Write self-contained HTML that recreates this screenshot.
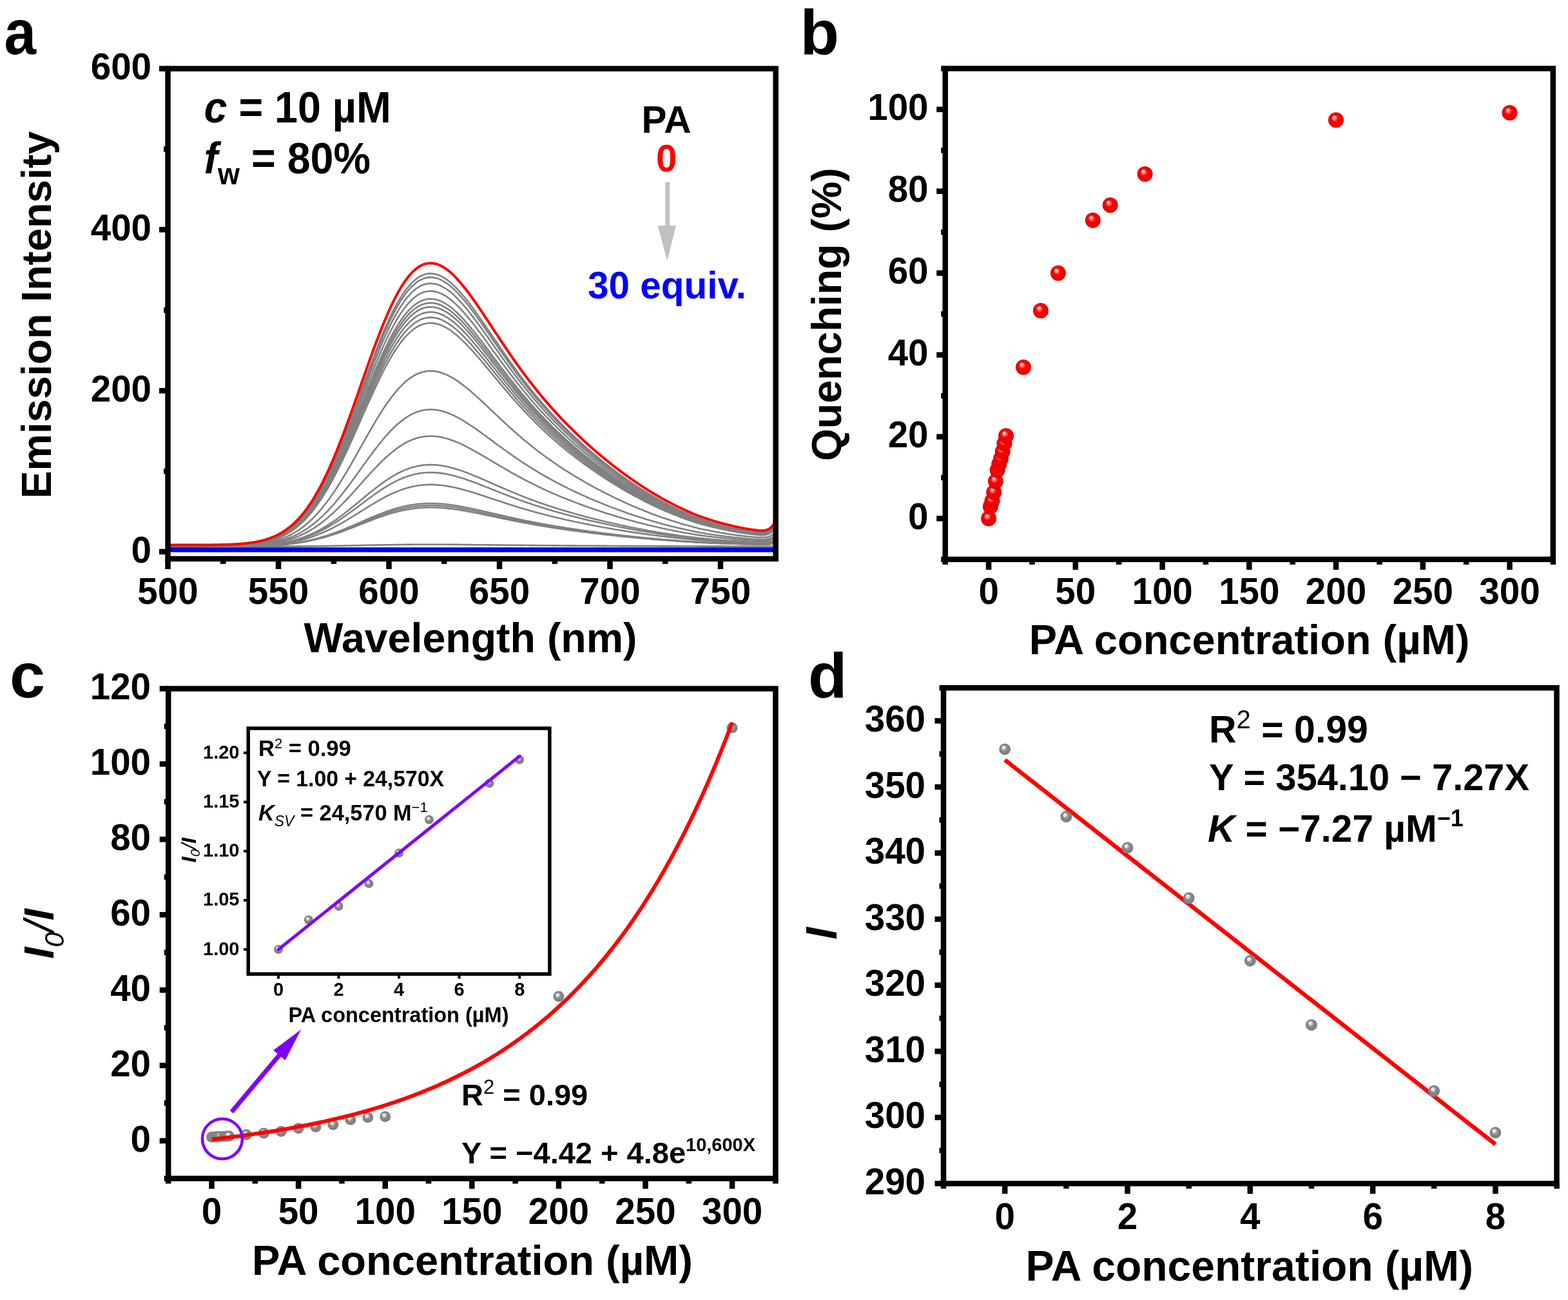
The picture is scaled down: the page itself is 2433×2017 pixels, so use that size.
<!DOCTYPE html>
<html><head><meta charset="utf-8"><title>Figure</title>
<style>html,body{margin:0;padding:0;background:#fff;}body{width:2433px;height:2017px;overflow:hidden;}svg{display:block;}</style>
</head><body>
<svg width="2433" height="2017" viewBox="0 0 2433 2017" style="font-family:'Liberation Sans',Arial,sans-serif;font-weight:bold">
<defs>
<radialGradient id="rs" cx="0.5" cy="0.5" r="0.5" fx="0.36" fy="0.3">
<stop offset="0" stop-color="#ffffff"/><stop offset="0.22" stop-color="#ff8080"/><stop offset="0.45" stop-color="#ff0000"/><stop offset="0.85" stop-color="#f00000"/><stop offset="1" stop-color="#d00000"/>
</radialGradient>
<radialGradient id="gs" cx="0.5" cy="0.5" r="0.5" fx="0.36" fy="0.3">
<stop offset="0" stop-color="#f4f4f4"/><stop offset="0.25" stop-color="#dcdcdc"/><stop offset="0.5" stop-color="#8a8a8a"/><stop offset="0.9" stop-color="#7e7e7e"/><stop offset="1" stop-color="#909090"/>
</radialGradient>
</defs>
<rect x="0" y="0" width="2433" height="2017" fill="#fff"/>
<g clip-path="url(#clipA)">
<clipPath id="clipA"><rect x="260.5" y="106.5" width="943.2" height="760.5"/></clipPath>
<path d="M260.5,847.9 L263.9,847.9 L267.4,847.9 L270.8,847.9 L274.2,847.9 L277.6,847.9 L281.1,847.9 L284.5,847.9 L287.9,847.9 L291.4,847.9 L294.8,847.9 L298.2,847.8 L301.7,847.8 L305.1,847.8 L308.5,847.8 L311.9,847.8 L315.4,847.8 L318.8,847.7 L322.2,847.7 L325.7,847.7 L329.1,847.6 L332.5,847.6 L336.0,847.6 L339.4,847.5 L342.8,847.4 L346.2,847.3 L349.7,847.2 L353.1,847.1 L356.5,847.0 L360.0,846.9 L363.4,846.7 L366.8,846.5 L370.3,846.3 L373.7,846.0 L377.1,845.8 L380.6,845.4 L384.0,845.1 L387.4,844.7 L390.8,844.2 L394.3,843.7 L397.7,843.1 L401.1,842.4 L404.6,841.7 L408.0,840.9 L411.4,840.0 L414.9,838.9 L418.3,837.8 L421.7,836.6 L425.1,835.2 L428.6,833.7 L432.0,832.0 L435.4,830.2 L438.9,828.2 L442.3,826.1 L445.7,823.7 L449.1,821.2 L452.6,818.4 L456.0,815.5 L459.4,812.3 L462.9,808.9 L466.3,805.2 L469.7,801.3 L473.2,797.1 L476.6,792.6 L480.0,787.9 L483.5,782.9 L486.9,777.6 L490.3,772.1 L493.7,766.2 L497.2,760.1 L500.6,753.7 L504.0,747.0 L507.5,740.0 L510.9,732.8 L514.3,725.3 L517.8,717.6 L521.2,709.6 L524.6,701.4 L528.0,692.9 L531.5,684.3 L534.9,675.5 L538.3,666.5 L541.8,657.4 L545.2,648.2 L548.6,638.9 L552.0,629.5 L555.5,620.0 L558.9,610.5 L562.3,601.0 L565.8,591.5 L569.2,582.1 L572.6,572.8 L576.1,563.5 L579.5,554.4 L582.9,545.4 L586.4,536.6 L589.8,528.0 L593.2,519.6 L596.6,511.5 L600.1,503.7 L603.5,496.1 L606.9,488.9 L610.4,481.9 L613.8,475.4 L617.2,469.2 L620.7,463.3 L624.1,457.9 L627.5,452.8 L630.9,448.2 L634.4,443.9 L637.8,440.1 L641.2,436.7 L644.7,433.7 L648.1,431.1 L651.5,429.0 L655.0,427.3 L658.4,426.0 L661.8,425.0 L665.2,424.5 L668.7,424.4 L672.1,424.7 L675.5,425.3 L679.0,426.3 L682.4,427.6 L685.8,429.2 L689.2,431.2 L692.7,433.4 L696.1,436.0 L699.5,438.8 L703.0,441.9 L706.4,445.2 L709.8,448.7 L713.3,452.4 L716.7,456.3 L720.1,460.4 L723.5,464.6 L727.0,469.0 L730.4,473.5 L733.8,478.1 L737.3,482.9 L740.7,487.6 L744.1,492.5 L747.6,497.4 L751.0,502.4 L754.4,507.4 L757.9,512.4 L761.3,517.5 L764.7,522.5 L768.1,527.6 L771.6,532.6 L775.0,537.6 L778.4,542.6 L781.9,547.6 L785.3,552.5 L788.7,557.4 L792.1,562.2 L795.6,567.0 L799.0,571.8 L802.4,576.5 L805.9,581.1 L809.3,585.7 L812.7,590.2 L816.2,594.6 L819.6,599.0 L823.0,603.4 L826.5,607.6 L829.9,611.8 L833.3,616.0 L836.7,620.1 L840.2,624.1 L843.6,628.0 L847.0,632.0 L850.5,635.8 L853.9,639.6 L857.3,643.3 L860.8,647.0 L864.2,650.6 L867.6,654.2 L871.0,657.7 L874.5,661.2 L877.9,664.7 L881.3,668.0 L884.8,671.4 L888.2,674.7 L891.6,677.9 L895.1,681.1 L898.5,684.3 L901.9,687.4 L905.3,690.5 L908.8,693.6 L912.2,696.6 L915.6,699.6 L919.1,702.5 L922.5,705.4 L925.9,708.3 L929.4,711.1 L932.8,713.9 L936.2,716.7 L939.6,719.4 L943.1,722.1 L946.5,724.7 L949.9,727.4 L953.4,730.0 L956.8,732.5 L960.2,735.1 L963.6,737.6 L967.1,740.0 L970.5,742.5 L973.9,744.8 L977.4,747.2 L980.8,749.5 L984.2,751.8 L987.7,754.1 L991.1,756.3 L994.5,758.5 L998.0,760.7 L1001.4,762.8 L1004.8,764.9 L1008.2,767.0 L1011.7,769.0 L1015.1,771.0 L1018.5,773.0 L1022.0,774.9 L1025.4,776.8 L1028.8,778.7 L1032.2,780.5 L1035.7,782.3 L1039.1,784.1 L1042.5,785.8 L1046.0,787.5 L1049.4,789.2 L1052.8,790.8 L1056.3,792.4 L1059.7,793.9 L1063.1,795.5 L1066.6,797.0 L1070.0,798.4 L1073.4,799.9 L1076.8,801.3 L1080.3,802.7 L1083.7,804.0 L1087.1,805.2 L1090.6,806.3 L1094.0,807.5 L1097.4,808.6 L1100.8,809.6 L1104.3,810.7 L1107.7,811.7 L1111.1,812.7 L1114.6,813.6 L1118.0,814.6 L1121.4,815.5 L1124.9,816.3 L1128.3,817.2 L1131.7,818.0 L1135.2,818.8 L1138.6,819.6 L1142.0,820.3 L1145.4,821.0 L1148.9,821.7 L1152.3,822.4 L1155.7,823.0 L1159.2,823.6 L1162.6,824.2 L1166.0,824.7 L1169.5,825.1 L1172.9,825.6 L1176.3,826.0 L1179.7,826.2 L1183.2,826.2 L1186.6,825.9 L1190.0,825.1 L1193.5,823.6 L1196.9,821.1 L1200.3,817.0 L1203.8,810.8 L1205.5,806.5" fill="none" stroke="#808080" stroke-width="2.6" stroke-linejoin="round" stroke-linecap="round"/>
<path d="M260.5,847.9 L263.9,847.9 L267.4,847.9 L270.8,847.9 L274.2,847.9 L277.6,847.9 L281.1,847.9 L284.5,847.9 L287.9,847.9 L291.4,847.9 L294.8,847.9 L298.2,847.8 L301.7,847.8 L305.1,847.8 L308.5,847.8 L311.9,847.8 L315.4,847.8 L318.8,847.7 L322.2,847.7 L325.7,847.7 L329.1,847.7 L332.5,847.6 L336.0,847.6 L339.4,847.5 L342.8,847.4 L346.2,847.3 L349.7,847.3 L353.1,847.1 L356.5,847.0 L360.0,846.9 L363.4,846.7 L366.8,846.5 L370.3,846.3 L373.7,846.1 L377.1,845.8 L380.6,845.5 L384.0,845.1 L387.4,844.7 L390.8,844.3 L394.3,843.7 L397.7,843.2 L401.1,842.5 L404.6,841.8 L408.0,841.0 L411.4,840.1 L414.9,839.1 L418.3,838.0 L421.7,836.7 L425.1,835.4 L428.6,833.9 L432.0,832.3 L435.4,830.5 L438.9,828.5 L442.3,826.4 L445.7,824.1 L449.1,821.6 L452.6,818.9 L456.0,815.9 L459.4,812.8 L462.9,809.4 L466.3,805.8 L469.7,801.9 L473.2,797.8 L476.6,793.4 L480.0,788.7 L483.5,783.8 L486.9,778.6 L490.3,773.1 L493.7,767.3 L497.2,761.3 L500.6,755.0 L504.0,748.4 L507.5,741.5 L510.9,734.4 L514.3,727.0 L517.8,719.4 L521.2,711.5 L524.6,703.4 L528.0,695.1 L531.5,686.6 L534.9,677.9 L538.3,669.1 L541.8,660.1 L545.2,651.0 L548.6,641.8 L552.0,632.5 L555.5,623.2 L558.9,613.8 L562.3,604.4 L565.8,595.1 L569.2,585.8 L572.6,576.6 L576.1,567.5 L579.5,558.5 L582.9,549.6 L586.4,540.9 L589.8,532.5 L593.2,524.2 L596.6,516.2 L600.1,508.4 L603.5,501.0 L606.9,493.8 L610.4,487.0 L613.8,480.5 L617.2,474.4 L620.7,468.6 L624.1,463.3 L627.5,458.3 L630.9,453.7 L634.4,449.5 L637.8,445.7 L641.2,442.4 L644.7,439.4 L648.1,436.9 L651.5,434.8 L655.0,433.1 L658.4,431.8 L661.8,430.9 L665.2,430.4 L668.7,430.3 L672.1,430.5 L675.5,431.1 L679.0,432.1 L682.4,433.4 L685.8,435.0 L689.2,437.0 L692.7,439.2 L696.1,441.7 L699.5,444.5 L703.0,447.5 L706.4,450.7 L709.8,454.2 L713.3,457.9 L716.7,461.8 L720.1,465.8 L723.5,470.0 L727.0,474.3 L730.4,478.7 L733.8,483.3 L737.3,487.9 L740.7,492.6 L744.1,497.4 L747.6,502.3 L751.0,507.2 L754.4,512.1 L757.9,517.1 L761.3,522.1 L764.7,527.0 L768.1,532.0 L771.6,537.0 L775.0,541.9 L778.4,546.8 L781.9,551.7 L785.3,556.6 L788.7,561.4 L792.1,566.2 L795.6,570.9 L799.0,575.6 L802.4,580.2 L805.9,584.8 L809.3,589.3 L812.7,593.7 L816.2,598.1 L819.6,602.5 L823.0,606.7 L826.5,611.0 L829.9,615.1 L833.3,619.2 L836.7,623.2 L840.2,627.2 L843.6,631.1 L847.0,634.9 L850.5,638.7 L853.9,642.5 L857.3,646.2 L860.8,649.8 L864.2,653.4 L867.6,656.9 L871.0,660.4 L874.5,663.8 L877.9,667.2 L881.3,670.5 L884.8,673.8 L888.2,677.1 L891.6,680.3 L895.1,683.4 L898.5,686.6 L901.9,689.7 L905.3,692.7 L908.8,695.7 L912.2,698.7 L915.6,701.6 L919.1,704.5 L922.5,707.4 L925.9,710.2 L929.4,713.0 L932.8,715.7 L936.2,718.5 L939.6,721.2 L943.1,723.8 L946.5,726.4 L949.9,729.0 L953.4,731.6 L956.8,734.1 L960.2,736.6 L963.6,739.1 L967.1,741.5 L970.5,743.9 L973.9,746.3 L977.4,748.6 L980.8,750.9 L984.2,753.2 L987.7,755.4 L991.1,757.6 L994.5,759.8 L998.0,761.9 L1001.4,764.0 L1004.8,766.1 L1008.2,768.1 L1011.7,770.1 L1015.1,772.1 L1018.5,774.0 L1022.0,775.9 L1025.4,777.8 L1028.8,779.6 L1032.2,781.4 L1035.7,783.2 L1039.1,785.0 L1042.5,786.7 L1046.0,788.3 L1049.4,790.0 L1052.8,791.6 L1056.3,793.2 L1059.7,794.7 L1063.1,796.2 L1066.6,797.7 L1070.0,799.1 L1073.4,800.5 L1076.8,801.9 L1080.3,803.3 L1083.7,804.6 L1087.1,805.8 L1090.6,806.9 L1094.0,808.0 L1097.4,809.1 L1100.8,810.2 L1104.3,811.2 L1107.7,812.2 L1111.1,813.2 L1114.6,814.1 L1118.0,815.0 L1121.4,815.9 L1124.9,816.8 L1128.3,817.6 L1131.7,818.4 L1135.2,819.2 L1138.6,820.0 L1142.0,820.7 L1145.4,821.4 L1148.9,822.1 L1152.3,822.7 L1155.7,823.4 L1159.2,823.9 L1162.6,824.5 L1166.0,825.0 L1169.5,825.4 L1172.9,825.9 L1176.3,826.3 L1179.7,826.5 L1183.2,826.5 L1186.6,826.2 L1190.0,825.4 L1193.5,823.9 L1196.9,821.4 L1200.3,817.5 L1203.8,811.3 L1205.5,807.0" fill="none" stroke="#808080" stroke-width="2.6" stroke-linejoin="round" stroke-linecap="round"/>
<path d="M260.5,847.9 L263.9,847.9 L267.4,847.9 L270.8,847.9 L274.2,847.9 L277.6,847.9 L281.1,847.9 L284.5,847.9 L287.9,847.9 L291.4,847.9 L294.8,847.9 L298.2,847.8 L301.7,847.8 L305.1,847.8 L308.5,847.8 L311.9,847.8 L315.4,847.8 L318.8,847.8 L322.2,847.7 L325.7,847.7 L329.1,847.7 L332.5,847.6 L336.0,847.6 L339.4,847.5 L342.8,847.4 L346.2,847.4 L349.7,847.3 L353.1,847.2 L356.5,847.0 L360.0,846.9 L363.4,846.7 L366.8,846.6 L370.3,846.4 L373.7,846.1 L377.1,845.8 L380.6,845.5 L384.0,845.2 L387.4,844.8 L390.8,844.3 L394.3,843.8 L397.7,843.3 L401.1,842.6 L404.6,841.9 L408.0,841.1 L411.4,840.3 L414.9,839.3 L418.3,838.2 L421.7,837.0 L425.1,835.7 L428.6,834.2 L432.0,832.6 L435.4,830.9 L438.9,829.0 L442.3,826.9 L445.7,824.6 L449.1,822.2 L452.6,819.5 L456.0,816.7 L459.4,813.6 L462.9,810.3 L466.3,806.7 L469.7,802.9 L473.2,798.9 L476.6,794.6 L480.0,790.1 L483.5,785.3 L486.9,780.2 L490.3,774.8 L493.7,769.2 L497.2,763.3 L500.6,757.1 L504.0,750.6 L507.5,743.9 L510.9,737.0 L514.3,729.7 L517.8,722.3 L521.2,714.6 L524.6,706.7 L528.0,698.6 L531.5,690.2 L534.9,681.8 L538.3,673.1 L541.8,664.3 L545.2,655.5 L548.6,646.5 L552.0,637.4 L555.5,628.3 L558.9,619.1 L562.3,610.0 L565.8,600.8 L569.2,591.8 L572.6,582.7 L576.1,573.8 L579.5,565.0 L582.9,556.4 L586.4,547.9 L589.8,539.6 L593.2,531.6 L596.6,523.7 L600.1,516.2 L603.5,508.9 L606.9,501.9 L610.4,495.2 L613.8,488.9 L617.2,482.9 L620.7,477.3 L624.1,472.0 L627.5,467.1 L630.9,462.7 L634.4,458.6 L637.8,454.9 L641.2,451.6 L644.7,448.7 L648.1,446.3 L651.5,444.2 L655.0,442.5 L658.4,441.3 L661.8,440.4 L665.2,439.9 L668.7,439.8 L672.1,440.0 L675.5,440.6 L679.0,441.6 L682.4,442.8 L685.8,444.4 L689.2,446.3 L692.7,448.5 L696.1,450.9 L699.5,453.6 L703.0,456.6 L706.4,459.8 L709.8,463.2 L713.3,466.8 L716.7,470.5 L720.1,474.5 L723.5,478.5 L727.0,482.8 L730.4,487.1 L733.8,491.6 L737.3,496.1 L740.7,500.7 L744.1,505.4 L747.6,510.1 L751.0,514.9 L754.4,519.8 L757.9,524.6 L761.3,529.5 L764.7,534.3 L768.1,539.2 L771.6,544.0 L775.0,548.9 L778.4,553.7 L781.9,558.5 L785.3,563.2 L788.7,567.9 L792.1,572.6 L795.6,577.2 L799.0,581.8 L802.4,586.3 L805.9,590.8 L809.3,595.2 L812.7,599.5 L816.2,603.8 L819.6,608.1 L823.0,612.2 L826.5,616.3 L829.9,620.4 L833.3,624.4 L836.7,628.3 L840.2,632.2 L843.6,636.0 L847.0,639.8 L850.5,643.5 L853.9,647.1 L857.3,650.8 L860.8,654.3 L864.2,657.8 L867.6,661.2 L871.0,664.6 L874.5,668.0 L877.9,671.3 L881.3,674.6 L884.8,677.8 L888.2,681.0 L891.6,684.1 L895.1,687.2 L898.5,690.2 L901.9,693.2 L905.3,696.2 L908.8,699.2 L912.2,702.1 L915.6,704.9 L919.1,707.8 L922.5,710.6 L925.9,713.3 L929.4,716.1 L932.8,718.8 L936.2,721.4 L939.6,724.0 L943.1,726.6 L946.5,729.2 L949.9,731.7 L953.4,734.2 L956.8,736.7 L960.2,739.2 L963.6,741.6 L967.1,743.9 L970.5,746.3 L973.9,748.6 L977.4,750.9 L980.8,753.1 L984.2,755.3 L987.7,757.5 L991.1,759.7 L994.5,761.8 L998.0,763.9 L1001.4,765.9 L1004.8,767.9 L1008.2,769.9 L1011.7,771.9 L1015.1,773.8 L1018.5,775.7 L1022.0,777.6 L1025.4,779.4 L1028.8,781.2 L1032.2,783.0 L1035.7,784.7 L1039.1,786.4 L1042.5,788.1 L1046.0,789.7 L1049.4,791.3 L1052.8,792.9 L1056.3,794.4 L1059.7,795.9 L1063.1,797.4 L1066.6,798.8 L1070.0,800.2 L1073.4,801.6 L1076.8,803.0 L1080.3,804.3 L1083.7,805.6 L1087.1,806.7 L1090.6,807.9 L1094.0,808.9 L1097.4,810.0 L1100.8,811.0 L1104.3,812.0 L1107.7,813.0 L1111.1,814.0 L1114.6,814.9 L1118.0,815.8 L1121.4,816.6 L1124.9,817.5 L1128.3,818.3 L1131.7,819.1 L1135.2,819.9 L1138.6,820.6 L1142.0,821.3 L1145.4,822.0 L1148.9,822.7 L1152.3,823.3 L1155.7,823.9 L1159.2,824.5 L1162.6,825.0 L1166.0,825.5 L1169.5,825.9 L1172.9,826.4 L1176.3,826.8 L1179.7,827.0 L1183.2,827.0 L1186.6,826.7 L1190.0,825.9 L1193.5,824.5 L1196.9,822.0 L1200.3,818.2 L1203.8,812.1 L1205.5,808.0" fill="none" stroke="#808080" stroke-width="2.6" stroke-linejoin="round" stroke-linecap="round"/>
<path d="M260.5,847.9 L263.9,847.9 L267.4,847.9 L270.8,847.9 L274.2,847.9 L277.6,847.9 L281.1,847.9 L284.5,847.9 L287.9,847.9 L291.4,847.9 L294.8,847.9 L298.2,847.8 L301.7,847.8 L305.1,847.8 L308.5,847.8 L311.9,847.8 L315.4,847.8 L318.8,847.8 L322.2,847.7 L325.7,847.7 L329.1,847.7 L332.5,847.6 L336.0,847.6 L339.4,847.5 L342.8,847.5 L346.2,847.4 L349.7,847.3 L353.1,847.2 L356.5,847.1 L360.0,846.9 L363.4,846.8 L366.8,846.6 L370.3,846.4 L373.7,846.2 L377.1,845.9 L380.6,845.6 L384.0,845.3 L387.4,844.9 L390.8,844.4 L394.3,844.0 L397.7,843.4 L401.1,842.8 L404.6,842.1 L408.0,841.3 L411.4,840.5 L414.9,839.5 L418.3,838.5 L421.7,837.3 L425.1,836.0 L428.6,834.6 L432.0,833.1 L435.4,831.4 L438.9,829.5 L442.3,827.5 L445.7,825.3 L449.1,822.9 L452.6,820.3 L456.0,817.6 L459.4,814.6 L462.9,811.4 L466.3,807.9 L469.7,804.3 L473.2,800.3 L476.6,796.2 L480.0,791.8 L483.5,787.1 L486.9,782.1 L490.3,776.9 L493.7,771.5 L497.2,765.7 L500.6,759.7 L504.0,753.5 L507.5,747.0 L510.9,740.2 L514.3,733.2 L517.8,725.9 L521.2,718.5 L524.6,710.8 L528.0,702.9 L531.5,694.8 L534.9,686.6 L538.3,678.2 L541.8,669.7 L545.2,661.0 L548.6,652.3 L552.0,643.5 L555.5,634.7 L558.9,625.8 L562.3,616.9 L565.8,608.0 L569.2,599.2 L572.6,590.5 L576.1,581.8 L579.5,573.3 L582.9,564.9 L586.4,556.6 L589.8,548.6 L593.2,540.8 L596.6,533.2 L600.1,525.8 L603.5,518.7 L606.9,512.0 L610.4,505.5 L613.8,499.3 L617.2,493.5 L620.7,488.0 L624.1,482.9 L627.5,478.2 L630.9,473.9 L634.4,469.9 L637.8,466.3 L641.2,463.1 L644.7,460.3 L648.1,457.9 L651.5,455.9 L655.0,454.3 L658.4,453.1 L661.8,452.2 L665.2,451.8 L668.7,451.6 L672.1,451.9 L675.5,452.5 L679.0,453.4 L682.4,454.6 L685.8,456.1 L689.2,458.0 L692.7,460.1 L696.1,462.5 L699.5,465.1 L703.0,468.0 L706.4,471.1 L709.8,474.4 L713.3,477.8 L716.7,481.5 L720.1,485.3 L723.5,489.3 L727.0,493.4 L730.4,497.6 L733.8,501.9 L737.3,506.3 L740.7,510.8 L744.1,515.4 L747.6,520.0 L751.0,524.6 L754.4,529.3 L757.9,534.0 L761.3,538.7 L764.7,543.4 L768.1,548.2 L771.6,552.9 L775.0,557.6 L778.4,562.2 L781.9,566.9 L785.3,571.5 L788.7,576.1 L792.1,580.6 L795.6,585.1 L799.0,589.5 L802.4,593.9 L805.9,598.2 L809.3,602.5 L812.7,606.7 L816.2,610.9 L819.6,615.0 L823.0,619.1 L826.5,623.1 L829.9,627.0 L833.3,630.9 L836.7,634.7 L840.2,638.5 L843.6,642.2 L847.0,645.8 L850.5,649.4 L853.9,653.0 L857.3,656.5 L860.8,659.9 L864.2,663.3 L867.6,666.7 L871.0,670.0 L874.5,673.2 L877.9,676.4 L881.3,679.6 L884.8,682.7 L888.2,685.8 L891.6,688.9 L895.1,691.9 L898.5,694.8 L901.9,697.7 L905.3,700.6 L908.8,703.5 L912.2,706.3 L915.6,709.1 L919.1,711.8 L922.5,714.6 L925.9,717.2 L929.4,719.9 L932.8,722.5 L936.2,725.1 L939.6,727.6 L943.1,730.2 L946.5,732.7 L949.9,735.1 L953.4,737.5 L956.8,739.9 L960.2,742.3 L963.6,744.7 L967.1,747.0 L970.5,749.2 L973.9,751.5 L977.4,753.7 L980.8,755.9 L984.2,758.0 L987.7,760.1 L991.1,762.2 L994.5,764.3 L998.0,766.3 L1001.4,768.3 L1004.8,770.3 L1008.2,772.2 L1011.7,774.1 L1015.1,776.0 L1018.5,777.8 L1022.0,779.6 L1025.4,781.4 L1028.8,783.1 L1032.2,784.8 L1035.7,786.5 L1039.1,788.2 L1042.5,789.8 L1046.0,791.4 L1049.4,792.9 L1052.8,794.5 L1056.3,796.0 L1059.7,797.4 L1063.1,798.9 L1066.6,800.3 L1070.0,801.6 L1073.4,803.0 L1076.8,804.3 L1080.3,805.6 L1083.7,806.8 L1087.1,807.9 L1090.6,809.0 L1094.0,810.1 L1097.4,811.1 L1100.8,812.1 L1104.3,813.1 L1107.7,814.0 L1111.1,814.9 L1114.6,815.8 L1118.0,816.7 L1121.4,817.6 L1124.9,818.4 L1128.3,819.2 L1131.7,819.9 L1135.2,820.7 L1138.6,821.4 L1142.0,822.1 L1145.4,822.8 L1148.9,823.4 L1152.3,824.0 L1155.7,824.6 L1159.2,825.2 L1162.6,825.7 L1166.0,826.2 L1169.5,826.6 L1172.9,827.0 L1176.3,827.4 L1179.7,827.6 L1183.2,827.6 L1186.6,827.3 L1190.0,826.5 L1193.5,825.1 L1196.9,822.8 L1200.3,819.0 L1203.8,813.2 L1205.5,809.1" fill="none" stroke="#808080" stroke-width="2.6" stroke-linejoin="round" stroke-linecap="round"/>
<path d="M260.5,847.9 L263.9,847.9 L267.4,847.9 L270.8,847.9 L274.2,847.9 L277.6,847.9 L281.1,847.9 L284.5,847.9 L287.9,847.9 L291.4,847.9 L294.8,847.9 L298.2,847.9 L301.7,847.8 L305.1,847.8 L308.5,847.8 L311.9,847.8 L315.4,847.8 L318.8,847.8 L322.2,847.7 L325.7,847.7 L329.1,847.7 L332.5,847.6 L336.0,847.6 L339.4,847.5 L342.8,847.5 L346.2,847.4 L349.7,847.3 L353.1,847.2 L356.5,847.1 L360.0,847.0 L363.4,846.8 L366.8,846.6 L370.3,846.4 L373.7,846.2 L377.1,846.0 L380.6,845.7 L384.0,845.3 L387.4,845.0 L390.8,844.5 L394.3,844.1 L397.7,843.5 L401.1,842.9 L404.6,842.3 L408.0,841.5 L411.4,840.7 L414.9,839.8 L418.3,838.8 L421.7,837.6 L425.1,836.4 L428.6,835.0 L432.0,833.5 L435.4,831.9 L438.9,830.1 L442.3,828.1 L445.7,826.0 L449.1,823.7 L452.6,821.2 L456.0,818.5 L459.4,815.6 L462.9,812.5 L466.3,809.2 L469.7,805.6 L473.2,801.8 L476.6,797.8 L480.0,793.5 L483.5,788.9 L486.9,784.1 L490.3,779.1 L493.7,773.8 L497.2,768.2 L500.6,762.4 L504.0,756.4 L507.5,750.0 L510.9,743.5 L514.3,736.7 L517.8,729.7 L521.2,722.4 L524.6,715.0 L528.0,707.3 L531.5,699.5 L534.9,691.5 L538.3,683.4 L541.8,675.1 L545.2,666.8 L548.6,658.3 L552.0,649.8 L555.5,641.2 L558.9,632.6 L562.3,624.0 L565.8,615.4 L569.2,606.8 L572.6,598.3 L576.1,589.9 L579.5,581.7 L582.9,573.5 L586.4,565.5 L589.8,557.7 L593.2,550.1 L596.6,542.8 L600.1,535.7 L603.5,528.8 L606.9,522.2 L610.4,515.9 L613.8,510.0 L617.2,504.3 L620.7,499.1 L624.1,494.1 L627.5,489.5 L630.9,485.3 L634.4,481.4 L637.8,478.0 L641.2,474.9 L644.7,472.2 L648.1,469.9 L651.5,467.9 L655.0,466.3 L658.4,465.2 L661.8,464.3 L665.2,463.9 L668.7,463.8 L672.1,464.0 L675.5,464.5 L679.0,465.4 L682.4,466.6 L685.8,468.1 L689.2,469.9 L692.7,472.0 L696.1,474.3 L699.5,476.8 L703.0,479.6 L706.4,482.6 L709.8,485.8 L713.3,489.2 L716.7,492.7 L720.1,496.4 L723.5,500.3 L727.0,504.2 L730.4,508.3 L733.8,512.5 L737.3,516.8 L740.7,521.1 L744.1,525.5 L747.6,530.0 L751.0,534.5 L754.4,539.0 L757.9,543.6 L761.3,548.2 L764.7,552.8 L768.1,557.3 L771.6,561.9 L775.0,566.5 L778.4,571.0 L781.9,575.5 L785.3,579.9 L788.7,584.4 L792.1,588.8 L795.6,593.1 L799.0,597.4 L802.4,601.7 L805.9,605.9 L809.3,610.0 L812.7,614.1 L816.2,618.2 L819.6,622.1 L823.0,626.1 L826.5,629.9 L829.9,633.8 L833.3,637.5 L836.7,641.2 L840.2,644.9 L843.6,648.5 L847.0,652.0 L850.5,655.5 L853.9,658.9 L857.3,662.3 L860.8,665.7 L864.2,669.0 L867.6,672.2 L871.0,675.4 L874.5,678.6 L877.9,681.7 L881.3,684.7 L884.8,687.8 L888.2,690.8 L891.6,693.7 L895.1,696.6 L898.5,699.5 L901.9,702.3 L905.3,705.1 L908.8,707.9 L912.2,710.6 L915.6,713.3 L919.1,716.0 L922.5,718.6 L925.9,721.2 L929.4,723.8 L932.8,726.3 L936.2,728.8 L939.6,731.3 L943.1,733.8 L946.5,736.2 L949.9,738.6 L953.4,740.9 L956.8,743.2 L960.2,745.5 L963.6,747.8 L967.1,750.0 L970.5,752.2 L973.9,754.4 L977.4,756.6 L980.8,758.7 L984.2,760.8 L987.7,762.8 L991.1,764.8 L994.5,766.8 L998.0,768.8 L1001.4,770.7 L1004.8,772.6 L1008.2,774.5 L1011.7,776.4 L1015.1,778.2 L1018.5,780.0 L1022.0,781.7 L1025.4,783.4 L1028.8,785.1 L1032.2,786.8 L1035.7,788.4 L1039.1,790.0 L1042.5,791.6 L1046.0,793.1 L1049.4,794.6 L1052.8,796.1 L1056.3,797.5 L1059.7,799.0 L1063.1,800.3 L1066.6,801.7 L1070.0,803.0 L1073.4,804.3 L1076.8,805.6 L1080.3,806.9 L1083.7,808.1 L1087.1,809.2 L1090.6,810.2 L1094.0,811.2 L1097.4,812.2 L1100.8,813.2 L1104.3,814.1 L1107.7,815.1 L1111.1,816.0 L1114.6,816.8 L1118.0,817.7 L1121.4,818.5 L1124.9,819.3 L1128.3,820.0 L1131.7,820.8 L1135.2,821.5 L1138.6,822.2 L1142.0,822.9 L1145.4,823.5 L1148.9,824.2 L1152.3,824.8 L1155.7,825.3 L1159.2,825.9 L1162.6,826.4 L1166.0,826.8 L1169.5,827.2 L1172.9,827.7 L1176.3,828.0 L1179.7,828.2 L1183.2,828.2 L1186.6,827.9 L1190.0,827.2 L1193.5,825.8 L1196.9,823.6 L1200.3,819.9 L1203.8,814.2 L1205.5,810.3" fill="none" stroke="#808080" stroke-width="2.6" stroke-linejoin="round" stroke-linecap="round"/>
<path d="M260.5,847.9 L263.9,847.9 L267.4,847.9 L270.8,847.9 L274.2,847.9 L277.6,847.9 L281.1,847.9 L284.5,847.9 L287.9,847.9 L291.4,847.9 L294.8,847.9 L298.2,847.9 L301.7,847.8 L305.1,847.8 L308.5,847.8 L311.9,847.8 L315.4,847.8 L318.8,847.8 L322.2,847.7 L325.7,847.7 L329.1,847.7 L332.5,847.6 L336.0,847.6 L339.4,847.5 L342.8,847.5 L346.2,847.4 L349.7,847.3 L353.1,847.2 L356.5,847.1 L360.0,847.0 L363.4,846.8 L366.8,846.7 L370.3,846.5 L373.7,846.2 L377.1,846.0 L380.6,845.7 L384.0,845.4 L387.4,845.0 L390.8,844.6 L394.3,844.1 L397.7,843.6 L401.1,843.0 L404.6,842.4 L408.0,841.6 L411.4,840.8 L414.9,839.9 L418.3,838.9 L421.7,837.8 L425.1,836.6 L428.6,835.2 L432.0,833.7 L435.4,832.1 L438.9,830.4 L442.3,828.4 L445.7,826.3 L449.1,824.1 L452.6,821.6 L456.0,819.0 L459.4,816.1 L462.9,813.1 L466.3,809.8 L469.7,806.3 L473.2,802.5 L476.6,798.6 L480.0,794.4 L483.5,789.9 L486.9,785.2 L490.3,780.2 L493.7,775.0 L497.2,769.5 L500.6,763.8 L504.0,757.8 L507.5,751.6 L510.9,745.2 L514.3,738.5 L517.8,731.6 L521.2,724.5 L524.6,717.1 L528.0,709.6 L531.5,701.9 L534.9,694.1 L538.3,686.1 L541.8,677.9 L545.2,669.7 L548.6,661.4 L552.0,653.0 L555.5,644.5 L558.9,636.1 L562.3,627.6 L565.8,619.1 L569.2,610.7 L572.6,602.4 L576.1,594.1 L579.5,586.0 L582.9,578.0 L586.4,570.1 L589.8,562.5 L593.2,555.0 L596.6,547.7 L600.1,540.7 L603.5,534.0 L606.9,527.5 L610.4,521.3 L613.8,515.5 L617.2,509.9 L620.7,504.7 L624.1,499.9 L627.5,495.3 L630.9,491.2 L634.4,487.4 L637.8,484.0 L641.2,481.0 L644.7,478.3 L648.1,476.0 L651.5,474.1 L655.0,472.6 L658.4,471.4 L661.8,470.6 L665.2,470.1 L668.7,470.0 L672.1,470.2 L675.5,470.8 L679.0,471.6 L682.4,472.8 L685.8,474.3 L689.2,476.0 L692.7,478.1 L696.1,480.3 L699.5,482.8 L703.0,485.6 L706.4,488.5 L709.8,491.7 L713.3,495.0 L716.7,498.5 L720.1,502.1 L723.5,505.9 L727.0,509.8 L730.4,513.8 L733.8,517.9 L737.3,522.2 L740.7,526.4 L744.1,530.8 L747.6,535.2 L751.0,539.6 L754.4,544.1 L757.9,548.5 L761.3,553.0 L764.7,557.6 L768.1,562.1 L771.6,566.5 L775.0,571.0 L778.4,575.5 L781.9,579.9 L785.3,584.3 L788.7,588.7 L792.1,593.0 L795.6,597.3 L799.0,601.5 L802.4,605.7 L805.9,609.8 L809.3,613.9 L812.7,617.9 L816.2,621.9 L819.6,625.8 L823.0,629.7 L826.5,633.5 L829.9,637.2 L833.3,640.9 L836.7,644.6 L840.2,648.2 L843.6,651.7 L847.0,655.2 L850.5,658.6 L853.9,662.0 L857.3,665.4 L860.8,668.6 L864.2,671.9 L867.6,675.1 L871.0,678.2 L874.5,681.3 L877.9,684.4 L881.3,687.4 L884.8,690.4 L888.2,693.3 L891.6,696.2 L895.1,699.1 L898.5,701.9 L901.9,704.7 L905.3,707.5 L908.8,710.2 L912.2,712.9 L915.6,715.5 L919.1,718.1 L922.5,720.7 L925.9,723.3 L929.4,725.8 L932.8,728.3 L936.2,730.8 L939.6,733.2 L943.1,735.6 L946.5,738.0 L949.9,740.3 L953.4,742.7 L956.8,744.9 L960.2,747.2 L963.6,749.4 L967.1,751.6 L970.5,753.8 L973.9,755.9 L977.4,758.1 L980.8,760.1 L984.2,762.2 L987.7,764.2 L991.1,766.2 L994.5,768.2 L998.0,770.1 L1001.4,772.0 L1004.8,773.9 L1008.2,775.7 L1011.7,777.5 L1015.1,779.3 L1018.5,781.1 L1022.0,782.8 L1025.4,784.5 L1028.8,786.1 L1032.2,787.8 L1035.7,789.4 L1039.1,790.9 L1042.5,792.5 L1046.0,794.0 L1049.4,795.5 L1052.8,796.9 L1056.3,798.4 L1059.7,799.8 L1063.1,801.1 L1066.6,802.5 L1070.0,803.8 L1073.4,805.0 L1076.8,806.3 L1080.3,807.5 L1083.7,808.7 L1087.1,809.8 L1090.6,810.8 L1094.0,811.8 L1097.4,812.8 L1100.8,813.8 L1104.3,814.7 L1107.7,815.6 L1111.1,816.5 L1114.6,817.3 L1118.0,818.2 L1121.4,819.0 L1124.9,819.7 L1128.3,820.5 L1131.7,821.2 L1135.2,821.9 L1138.6,822.6 L1142.0,823.3 L1145.4,823.9 L1148.9,824.5 L1152.3,825.1 L1155.7,825.7 L1159.2,826.2 L1162.6,826.7 L1166.0,827.2 L1169.5,827.6 L1172.9,828.0 L1176.3,828.3 L1179.7,828.5 L1183.2,828.5 L1186.6,828.2 L1190.0,827.5 L1193.5,826.2 L1196.9,824.0 L1200.3,820.4 L1203.8,814.8 L1205.5,810.9" fill="none" stroke="#808080" stroke-width="2.6" stroke-linejoin="round" stroke-linecap="round"/>
<path d="M260.5,847.9 L263.9,847.9 L267.4,847.9 L270.8,847.9 L274.2,847.9 L277.6,847.9 L281.1,847.9 L284.5,847.9 L287.9,847.9 L291.4,847.9 L294.8,847.9 L298.2,847.9 L301.7,847.8 L305.1,847.8 L308.5,847.8 L311.9,847.8 L315.4,847.8 L318.8,847.8 L322.2,847.7 L325.7,847.7 L329.1,847.7 L332.5,847.6 L336.0,847.6 L339.4,847.5 L342.8,847.5 L346.2,847.4 L349.7,847.3 L353.1,847.2 L356.5,847.1 L360.0,847.0 L363.4,846.8 L366.8,846.7 L370.3,846.5 L373.7,846.3 L377.1,846.0 L380.6,845.7 L384.0,845.4 L387.4,845.1 L390.8,844.7 L394.3,844.2 L397.7,843.7 L401.1,843.1 L404.6,842.5 L408.0,841.7 L411.4,840.9 L414.9,840.0 L418.3,839.1 L421.7,838.0 L425.1,836.8 L428.6,835.4 L432.0,834.0 L435.4,832.4 L438.9,830.6 L442.3,828.8 L445.7,826.7 L449.1,824.5 L452.6,822.1 L456.0,819.4 L459.4,816.6 L462.9,813.6 L466.3,810.4 L469.7,807.0 L473.2,803.3 L476.6,799.4 L480.0,795.2 L483.5,790.8 L486.9,786.2 L490.3,781.3 L493.7,776.2 L497.2,770.8 L500.6,765.2 L504.0,759.3 L507.5,753.2 L510.9,746.9 L514.3,740.3 L517.8,733.5 L521.2,726.5 L524.6,719.3 L528.0,711.9 L531.5,704.3 L534.9,696.6 L538.3,688.7 L541.8,680.8 L545.2,672.7 L548.6,664.5 L552.0,656.2 L555.5,647.9 L558.9,639.6 L562.3,631.2 L565.8,622.9 L569.2,614.6 L572.6,606.4 L576.1,598.3 L579.5,590.3 L582.9,582.4 L586.4,574.7 L589.8,567.2 L593.2,559.8 L596.6,552.7 L600.1,545.8 L603.5,539.2 L606.9,532.8 L610.4,526.7 L613.8,521.0 L617.2,515.5 L620.7,510.4 L624.1,505.6 L627.5,501.2 L630.9,497.1 L634.4,493.4 L637.8,490.0 L641.2,487.0 L644.7,484.4 L648.1,482.2 L651.5,480.3 L655.0,478.8 L658.4,477.6 L661.8,476.8 L665.2,476.4 L668.7,476.2 L672.1,476.5 L675.5,477.0 L679.0,477.9 L682.4,479.0 L685.8,480.5 L689.2,482.2 L692.7,484.2 L696.1,486.4 L699.5,488.9 L703.0,491.6 L706.4,494.5 L709.8,497.6 L713.3,500.8 L716.7,504.3 L720.1,507.8 L723.5,511.6 L727.0,515.4 L730.4,519.4 L733.8,523.4 L737.3,527.5 L740.7,531.7 L744.1,536.0 L747.6,540.3 L751.0,544.7 L754.4,549.1 L757.9,553.5 L761.3,557.9 L764.7,562.4 L768.1,566.8 L771.6,571.2 L775.0,575.6 L778.4,580.0 L781.9,584.3 L785.3,588.7 L788.7,593.0 L792.1,597.2 L795.6,601.4 L799.0,605.6 L802.4,609.7 L805.9,613.7 L809.3,617.8 L812.7,621.7 L816.2,625.6 L819.6,629.5 L823.0,633.3 L826.5,637.0 L829.9,640.7 L833.3,644.4 L836.7,647.9 L840.2,651.5 L843.6,655.0 L847.0,658.4 L850.5,661.8 L853.9,665.1 L857.3,668.4 L860.8,671.6 L864.2,674.8 L867.6,677.9 L871.0,681.0 L874.5,684.1 L877.9,687.1 L881.3,690.1 L884.8,693.0 L888.2,695.9 L891.6,698.7 L895.1,701.5 L898.5,704.3 L901.9,707.1 L905.3,709.8 L908.8,712.5 L912.2,715.1 L915.6,717.7 L919.1,720.3 L922.5,722.8 L925.9,725.4 L929.4,727.8 L932.8,730.3 L936.2,732.7 L939.6,735.1 L943.1,737.5 L946.5,739.8 L949.9,742.1 L953.4,744.4 L956.8,746.7 L960.2,748.9 L963.6,751.1 L967.1,753.2 L970.5,755.4 L973.9,757.5 L977.4,759.5 L980.8,761.6 L984.2,763.6 L987.7,765.6 L991.1,767.5 L994.5,769.5 L998.0,771.4 L1001.4,773.3 L1004.8,775.1 L1008.2,776.9 L1011.7,778.7 L1015.1,780.4 L1018.5,782.2 L1022.0,783.9 L1025.4,785.5 L1028.8,787.2 L1032.2,788.8 L1035.7,790.3 L1039.1,791.9 L1042.5,793.4 L1046.0,794.9 L1049.4,796.3 L1052.8,797.8 L1056.3,799.2 L1059.7,800.6 L1063.1,801.9 L1066.6,803.2 L1070.0,804.5 L1073.4,805.8 L1076.8,807.0 L1080.3,808.2 L1083.7,809.4 L1087.1,810.4 L1090.6,811.4 L1094.0,812.4 L1097.4,813.4 L1100.8,814.3 L1104.3,815.2 L1107.7,816.1 L1111.1,817.0 L1114.6,817.8 L1118.0,818.6 L1121.4,819.4 L1124.9,820.2 L1128.3,820.9 L1131.7,821.7 L1135.2,822.4 L1138.6,823.0 L1142.0,823.7 L1145.4,824.3 L1148.9,824.9 L1152.3,825.5 L1155.7,826.1 L1159.2,826.6 L1162.6,827.1 L1166.0,827.5 L1169.5,827.9 L1172.9,828.3 L1176.3,828.7 L1179.7,828.8 L1183.2,828.8 L1186.6,828.6 L1190.0,827.9 L1193.5,826.6 L1196.9,824.4 L1200.3,820.8 L1203.8,815.3 L1205.5,811.5" fill="none" stroke="#808080" stroke-width="2.6" stroke-linejoin="round" stroke-linecap="round"/>
<path d="M260.5,847.9 L263.9,847.9 L267.4,847.9 L270.8,847.9 L274.2,847.9 L277.6,847.9 L281.1,847.9 L284.5,847.9 L287.9,847.9 L291.4,847.9 L294.8,847.9 L298.2,847.9 L301.7,847.8 L305.1,847.8 L308.5,847.8 L311.9,847.8 L315.4,847.8 L318.8,847.8 L322.2,847.7 L325.7,847.7 L329.1,847.7 L332.5,847.6 L336.0,847.6 L339.4,847.5 L342.8,847.5 L346.2,847.4 L349.7,847.3 L353.1,847.2 L356.5,847.1 L360.0,847.0 L363.4,846.9 L366.8,846.7 L370.3,846.5 L373.7,846.3 L377.1,846.1 L380.6,845.8 L384.0,845.5 L387.4,845.1 L390.8,844.7 L394.3,844.3 L397.7,843.8 L401.1,843.2 L404.6,842.6 L408.0,841.9 L411.4,841.1 L414.9,840.2 L418.3,839.2 L421.7,838.2 L425.1,837.0 L428.6,835.7 L432.0,834.3 L435.4,832.7 L438.9,831.0 L442.3,829.2 L445.7,827.1 L449.1,825.0 L452.6,822.6 L456.0,820.1 L459.4,817.3 L462.9,814.4 L466.3,811.2 L469.7,807.8 L473.2,804.2 L476.6,800.4 L480.0,796.4 L483.5,792.1 L486.9,787.5 L490.3,782.7 L493.7,777.7 L497.2,772.5 L500.6,767.0 L504.0,761.2 L507.5,755.2 L510.9,749.0 L514.3,742.6 L517.8,735.9 L521.2,729.1 L524.6,722.0 L528.0,714.8 L531.5,707.4 L534.9,699.8 L538.3,692.1 L541.8,684.3 L545.2,676.4 L548.6,668.3 L552.0,660.3 L555.5,652.1 L558.9,644.0 L562.3,635.8 L565.8,627.7 L569.2,619.6 L572.6,611.6 L576.1,603.6 L579.5,595.8 L582.9,588.1 L586.4,580.5 L589.8,573.1 L593.2,565.9 L596.6,559.0 L600.1,552.2 L603.5,545.7 L606.9,539.5 L610.4,533.5 L613.8,527.9 L617.2,522.6 L620.7,517.5 L624.1,512.9 L627.5,508.5 L630.9,504.5 L634.4,500.9 L637.8,497.6 L641.2,494.7 L644.7,492.1 L648.1,489.9 L651.5,488.1 L655.0,486.6 L658.4,485.4 L661.8,484.7 L665.2,484.2 L668.7,484.1 L672.1,484.3 L675.5,484.9 L679.0,485.7 L682.4,486.8 L685.8,488.3 L689.2,489.9 L692.7,491.9 L696.1,494.1 L699.5,496.5 L703.0,499.1 L706.4,502.0 L709.8,505.0 L713.3,508.2 L716.7,511.5 L720.1,515.0 L723.5,518.7 L727.0,522.4 L730.4,526.3 L733.8,530.3 L737.3,534.3 L740.7,538.4 L744.1,542.6 L747.6,546.8 L751.0,551.1 L754.4,555.4 L757.9,559.7 L761.3,564.1 L764.7,568.4 L768.1,572.7 L771.6,577.1 L775.0,581.4 L778.4,585.7 L781.9,589.9 L785.3,594.2 L788.7,598.3 L792.1,602.5 L795.6,606.6 L799.0,610.7 L802.4,614.7 L805.9,618.7 L809.3,622.6 L812.7,626.5 L816.2,630.3 L819.6,634.1 L823.0,637.8 L826.5,641.5 L829.9,645.1 L833.3,648.7 L836.7,652.2 L840.2,655.6 L843.6,659.0 L847.0,662.4 L850.5,665.7 L853.9,669.0 L857.3,672.2 L860.8,675.3 L864.2,678.5 L867.6,681.5 L871.0,684.6 L874.5,687.5 L877.9,690.5 L881.3,693.4 L884.8,696.3 L888.2,699.1 L891.6,701.9 L895.1,704.6 L898.5,707.4 L901.9,710.1 L905.3,712.7 L908.8,715.3 L912.2,717.9 L915.6,720.5 L919.1,723.0 L922.5,725.5 L925.9,727.9 L929.4,730.4 L932.8,732.8 L936.2,735.2 L939.6,737.5 L943.1,739.8 L946.5,742.1 L949.9,744.4 L953.4,746.6 L956.8,748.8 L960.2,751.0 L963.6,753.1 L967.1,755.2 L970.5,757.3 L973.9,759.4 L977.4,761.4 L980.8,763.4 L984.2,765.4 L987.7,767.3 L991.1,769.3 L994.5,771.1 L998.0,773.0 L1001.4,774.8 L1004.8,776.6 L1008.2,778.4 L1011.7,780.2 L1015.1,781.9 L1018.5,783.6 L1022.0,785.2 L1025.4,786.8 L1028.8,788.4 L1032.2,790.0 L1035.7,791.6 L1039.1,793.1 L1042.5,794.6 L1046.0,796.0 L1049.4,797.4 L1052.8,798.8 L1056.3,800.2 L1059.7,801.6 L1063.1,802.9 L1066.6,804.2 L1070.0,805.4 L1073.4,806.6 L1076.8,807.9 L1080.3,809.0 L1083.7,810.2 L1087.1,811.2 L1090.6,812.2 L1094.0,813.2 L1097.4,814.1 L1100.8,815.0 L1104.3,815.9 L1107.7,816.8 L1111.1,817.6 L1114.6,818.5 L1118.0,819.3 L1121.4,820.0 L1124.9,820.8 L1128.3,821.5 L1131.7,822.2 L1135.2,822.9 L1138.6,823.6 L1142.0,824.2 L1145.4,824.8 L1148.9,825.4 L1152.3,826.0 L1155.7,826.5 L1159.2,827.0 L1162.6,827.5 L1166.0,827.9 L1169.5,828.3 L1172.9,828.7 L1176.3,829.1 L1179.7,829.2 L1183.2,829.2 L1186.6,829.0 L1190.0,828.3 L1193.5,827.0 L1196.9,824.9 L1200.3,821.4 L1203.8,816.0 L1205.5,812.3" fill="none" stroke="#808080" stroke-width="2.6" stroke-linejoin="round" stroke-linecap="round"/>
<path d="M260.5,847.9 L263.9,847.9 L267.4,847.9 L270.8,847.9 L274.2,847.9 L277.6,847.9 L281.1,847.9 L284.5,847.9 L287.9,847.9 L291.4,847.9 L294.8,847.9 L298.2,847.9 L301.7,847.8 L305.1,847.8 L308.5,847.8 L311.9,847.8 L315.4,847.8 L318.8,847.8 L322.2,847.7 L325.7,847.7 L329.1,847.7 L332.5,847.6 L336.0,847.6 L339.4,847.6 L342.8,847.5 L346.2,847.4 L349.7,847.3 L353.1,847.3 L356.5,847.2 L360.0,847.0 L363.4,846.9 L366.8,846.7 L370.3,846.6 L373.7,846.3 L377.1,846.1 L380.6,845.8 L384.0,845.5 L387.4,845.2 L390.8,844.8 L394.3,844.4 L397.7,843.9 L401.1,843.3 L404.6,842.7 L408.0,842.0 L411.4,841.2 L414.9,840.4 L418.3,839.4 L421.7,838.4 L425.1,837.2 L428.6,836.0 L432.0,834.6 L435.4,833.1 L438.9,831.4 L442.3,829.6 L445.7,827.6 L449.1,825.5 L452.6,823.2 L456.0,820.7 L459.4,818.0 L462.9,815.1 L466.3,812.0 L469.7,808.8 L473.2,805.2 L476.6,801.5 L480.0,797.5 L483.5,793.3 L486.9,788.9 L490.3,784.2 L493.7,779.3 L497.2,774.2 L500.6,768.8 L504.0,763.2 L507.5,757.4 L510.9,751.3 L514.3,745.0 L517.8,738.5 L521.2,731.8 L524.6,724.9 L528.0,717.8 L531.5,710.6 L534.9,703.2 L538.3,695.7 L541.8,688.1 L545.2,680.3 L548.6,672.5 L552.0,664.6 L555.5,656.6 L558.9,648.7 L562.3,640.7 L565.8,632.8 L569.2,624.8 L572.6,617.0 L576.1,609.2 L579.5,601.6 L582.9,594.0 L586.4,586.7 L589.8,579.4 L593.2,572.4 L596.6,565.6 L600.1,559.0 L603.5,552.7 L606.9,546.6 L610.4,540.8 L613.8,535.3 L617.2,530.0 L620.7,525.1 L624.1,520.6 L627.5,516.3 L630.9,512.4 L634.4,508.9 L637.8,505.6 L641.2,502.8 L644.7,500.3 L648.1,498.1 L651.5,496.3 L655.0,494.9 L658.4,493.8 L661.8,493.0 L665.2,492.6 L668.7,492.5 L672.1,492.7 L675.5,493.2 L679.0,494.0 L682.4,495.1 L685.8,496.5 L689.2,498.2 L692.7,500.1 L696.1,502.2 L699.5,504.6 L703.0,507.1 L706.4,509.9 L709.8,512.9 L713.3,516.0 L716.7,519.3 L720.1,522.7 L723.5,526.3 L727.0,529.9 L730.4,533.7 L733.8,537.6 L737.3,541.5 L740.7,545.6 L744.1,549.6 L747.6,553.8 L751.0,557.9 L754.4,562.1 L757.9,566.4 L761.3,570.6 L764.7,574.8 L768.1,579.1 L771.6,583.3 L775.0,587.5 L778.4,591.7 L781.9,595.9 L785.3,600.0 L788.7,604.1 L792.1,608.2 L795.6,612.2 L799.0,616.2 L802.4,620.1 L805.9,624.0 L809.3,627.8 L812.7,631.6 L816.2,635.3 L819.6,639.0 L823.0,642.7 L826.5,646.2 L829.9,649.8 L833.3,653.3 L836.7,656.7 L840.2,660.1 L843.6,663.4 L847.0,666.7 L850.5,669.9 L853.9,673.1 L857.3,676.2 L860.8,679.3 L864.2,682.4 L867.6,685.4 L871.0,688.3 L874.5,691.2 L877.9,694.1 L881.3,697.0 L884.8,699.8 L888.2,702.5 L891.6,705.2 L895.1,707.9 L898.5,710.6 L901.9,713.2 L905.3,715.8 L908.8,718.4 L912.2,720.9 L915.6,723.4 L919.1,725.9 L922.5,728.3 L925.9,730.7 L929.4,733.1 L932.8,735.4 L936.2,737.8 L939.6,740.0 L943.1,742.3 L946.5,744.5 L949.9,746.7 L953.4,748.9 L956.8,751.1 L960.2,753.2 L963.6,755.3 L967.1,757.4 L970.5,759.4 L973.9,761.4 L977.4,763.4 L980.8,765.4 L984.2,767.3 L987.7,769.2 L991.1,771.1 L994.5,772.9 L998.0,774.7 L1001.4,776.5 L1004.8,778.3 L1008.2,780.0 L1011.7,781.7 L1015.1,783.4 L1018.5,785.0 L1022.0,786.7 L1025.4,788.2 L1028.8,789.8 L1032.2,791.3 L1035.7,792.9 L1039.1,794.3 L1042.5,795.8 L1046.0,797.2 L1049.4,798.6 L1052.8,800.0 L1056.3,801.3 L1059.7,802.6 L1063.1,803.9 L1066.6,805.2 L1070.0,806.4 L1073.4,807.6 L1076.8,808.8 L1080.3,809.9 L1083.7,811.1 L1087.1,812.1 L1090.6,813.0 L1094.0,814.0 L1097.4,814.9 L1100.8,815.8 L1104.3,816.7 L1107.7,817.5 L1111.1,818.3 L1114.6,819.1 L1118.0,819.9 L1121.4,820.7 L1124.9,821.4 L1128.3,822.1 L1131.7,822.8 L1135.2,823.5 L1138.6,824.1 L1142.0,824.7 L1145.4,825.3 L1148.9,825.9 L1152.3,826.5 L1155.7,827.0 L1159.2,827.5 L1162.6,828.0 L1166.0,828.4 L1169.5,828.8 L1172.9,829.2 L1176.3,829.5 L1179.7,829.7 L1183.2,829.7 L1186.6,829.4 L1190.0,828.7 L1193.5,827.5 L1196.9,825.4 L1200.3,822.0 L1203.8,816.7 L1205.5,813.1" fill="none" stroke="#808080" stroke-width="2.6" stroke-linejoin="round" stroke-linecap="round"/>
<path d="M260.5,847.9 L263.9,847.9 L267.4,847.9 L270.8,847.9 L274.2,847.9 L277.6,847.9 L281.1,847.9 L284.5,847.9 L287.9,847.9 L291.4,847.9 L294.8,847.9 L298.2,847.9 L301.7,847.8 L305.1,847.8 L308.5,847.8 L311.9,847.8 L315.4,847.8 L318.8,847.8 L322.2,847.7 L325.7,847.7 L329.1,847.7 L332.5,847.7 L336.0,847.6 L339.4,847.6 L342.8,847.5 L346.2,847.4 L349.7,847.4 L353.1,847.3 L356.5,847.2 L360.0,847.1 L363.4,846.9 L366.8,846.8 L370.3,846.6 L373.7,846.4 L377.1,846.1 L380.6,845.9 L384.0,845.6 L387.4,845.3 L390.8,844.9 L394.3,844.4 L397.7,844.0 L401.1,843.4 L404.6,842.8 L408.0,842.1 L411.4,841.4 L414.9,840.6 L418.3,839.6 L421.7,838.6 L425.1,837.5 L428.6,836.3 L432.0,834.9 L435.4,833.4 L438.9,831.8 L442.3,830.0 L445.7,828.1 L449.1,826.0 L452.6,823.8 L456.0,821.4 L459.4,818.7 L462.9,815.9 L466.3,812.9 L469.7,809.7 L473.2,806.3 L476.6,802.6 L480.0,798.8 L483.5,794.7 L486.9,790.4 L490.3,785.8 L493.7,781.0 L497.2,776.0 L500.6,770.8 L504.0,765.3 L507.5,759.6 L510.9,753.7 L514.3,747.5 L517.8,741.2 L521.2,734.7 L524.6,727.9 L528.0,721.0 L531.5,714.0 L534.9,706.8 L538.3,699.4 L541.8,692.0 L545.2,684.4 L548.6,676.8 L552.0,669.1 L555.5,661.3 L558.9,653.6 L562.3,645.8 L565.8,638.0 L569.2,630.3 L572.6,622.7 L576.1,615.1 L579.5,607.6 L582.9,600.3 L586.4,593.1 L589.8,586.0 L593.2,579.2 L596.6,572.5 L600.1,566.1 L603.5,559.9 L606.9,554.0 L610.4,548.3 L613.8,543.0 L617.2,537.9 L620.7,533.1 L624.1,528.6 L627.5,524.5 L630.9,520.7 L634.4,517.2 L637.8,514.1 L641.2,511.3 L644.7,508.8 L648.1,506.7 L651.5,505.0 L655.0,503.6 L658.4,502.5 L661.8,501.7 L665.2,501.3 L668.7,501.2 L672.1,501.4 L675.5,501.9 L679.0,502.7 L682.4,503.8 L685.8,505.2 L689.2,506.8 L692.7,508.6 L696.1,510.7 L699.5,513.0 L703.0,515.5 L706.4,518.2 L709.8,521.1 L713.3,524.2 L716.7,527.4 L720.1,530.7 L723.5,534.2 L727.0,537.8 L730.4,541.4 L733.8,545.2 L737.3,549.1 L740.7,553.0 L744.1,557.0 L747.6,561.0 L751.0,565.1 L754.4,569.2 L757.9,573.3 L761.3,577.4 L764.7,581.5 L768.1,585.7 L771.6,589.8 L775.0,593.9 L778.4,598.0 L781.9,602.1 L785.3,606.1 L788.7,610.1 L792.1,614.1 L795.6,618.0 L799.0,621.9 L802.4,625.7 L805.9,629.5 L809.3,633.2 L812.7,636.9 L816.2,640.6 L819.6,644.2 L823.0,647.7 L826.5,651.2 L829.9,654.7 L833.3,658.0 L836.7,661.4 L840.2,664.7 L843.6,667.9 L847.0,671.1 L850.5,674.3 L853.9,677.4 L857.3,680.4 L860.8,683.5 L864.2,686.4 L867.6,689.4 L871.0,692.2 L874.5,695.1 L877.9,697.9 L881.3,700.7 L884.8,703.4 L888.2,706.1 L891.6,708.8 L895.1,711.4 L898.5,714.0 L901.9,716.5 L905.3,719.1 L908.8,721.6 L912.2,724.0 L915.6,726.5 L919.1,728.9 L922.5,731.2 L925.9,733.6 L929.4,735.9 L932.8,738.2 L936.2,740.5 L939.6,742.7 L943.1,744.9 L946.5,747.1 L949.9,749.2 L953.4,751.4 L956.8,753.5 L960.2,755.5 L963.6,757.6 L967.1,759.6 L970.5,761.6 L973.9,763.5 L977.4,765.5 L980.8,767.4 L984.2,769.3 L987.7,771.1 L991.1,772.9 L994.5,774.7 L998.0,776.5 L1001.4,778.3 L1004.8,780.0 L1008.2,781.7 L1011.7,783.3 L1015.1,785.0 L1018.5,786.6 L1022.0,788.2 L1025.4,789.7 L1028.8,791.2 L1032.2,792.7 L1035.7,794.2 L1039.1,795.6 L1042.5,797.1 L1046.0,798.5 L1049.4,799.8 L1052.8,801.1 L1056.3,802.5 L1059.7,803.7 L1063.1,805.0 L1066.6,806.2 L1070.0,807.4 L1073.4,808.6 L1076.8,809.7 L1080.3,810.9 L1083.7,812.0 L1087.1,812.9 L1090.6,813.9 L1094.0,814.8 L1097.4,815.7 L1100.8,816.6 L1104.3,817.4 L1107.7,818.3 L1111.1,819.1 L1114.6,819.8 L1118.0,820.6 L1121.4,821.3 L1124.9,822.1 L1128.3,822.8 L1131.7,823.4 L1135.2,824.1 L1138.6,824.7 L1142.0,825.3 L1145.4,825.9 L1148.9,826.5 L1152.3,827.0 L1155.7,827.5 L1159.2,828.0 L1162.6,828.5 L1166.0,828.9 L1169.5,829.2 L1172.9,829.6 L1176.3,829.9 L1179.7,830.1 L1183.2,830.1 L1186.6,829.9 L1190.0,829.2 L1193.5,828.0 L1196.9,825.9 L1200.3,822.6 L1203.8,817.5 L1205.5,814.0" fill="none" stroke="#808080" stroke-width="2.6" stroke-linejoin="round" stroke-linecap="round"/>
<path d="M260.5,847.9 L263.9,847.9 L267.4,847.9 L270.8,847.9 L274.2,847.9 L277.6,847.9 L281.1,847.9 L284.5,847.9 L287.9,847.9 L291.4,847.9 L294.8,847.9 L298.2,847.9 L301.7,847.9 L305.1,847.8 L308.5,847.8 L311.9,847.8 L315.4,847.8 L318.8,847.8 L322.2,847.8 L325.7,847.8 L329.1,847.7 L332.5,847.7 L336.0,847.7 L339.4,847.6 L342.8,847.6 L346.2,847.5 L349.7,847.5 L353.1,847.4 L356.5,847.3 L360.0,847.2 L363.4,847.1 L366.8,847.0 L370.3,846.9 L373.7,846.7 L377.1,846.5 L380.6,846.3 L384.0,846.1 L387.4,845.8 L390.8,845.5 L394.3,845.2 L397.7,844.8 L401.1,844.4 L404.6,843.9 L408.0,843.4 L411.4,842.8 L414.9,842.1 L418.3,841.4 L421.7,840.6 L425.1,839.7 L428.6,838.8 L432.0,837.7 L435.4,836.5 L438.9,835.3 L442.3,833.9 L445.7,832.4 L449.1,830.7 L452.6,829.0 L456.0,827.0 L459.4,825.0 L462.9,822.8 L466.3,820.4 L469.7,817.9 L473.2,815.2 L476.6,812.3 L480.0,809.3 L483.5,806.1 L486.9,802.7 L490.3,799.1 L493.7,795.4 L497.2,791.4 L500.6,787.3 L504.0,783.0 L507.5,778.5 L510.9,773.9 L514.3,769.0 L517.8,764.1 L521.2,758.9 L524.6,753.7 L528.0,748.2 L531.5,742.7 L534.9,737.0 L538.3,731.3 L541.8,725.4 L545.2,719.5 L548.6,713.5 L552.0,707.4 L555.5,701.3 L558.9,695.2 L562.3,689.1 L565.8,683.0 L569.2,677.0 L572.6,671.0 L576.1,665.0 L579.5,659.1 L582.9,653.4 L586.4,647.7 L589.8,642.2 L593.2,636.8 L596.6,631.6 L600.1,626.5 L603.5,621.7 L606.9,617.0 L610.4,612.6 L613.8,608.3 L617.2,604.3 L620.7,600.6 L624.1,597.1 L627.5,593.8 L630.9,590.8 L634.4,588.1 L637.8,585.6 L641.2,583.5 L644.7,581.5 L648.1,579.9 L651.5,578.5 L655.0,577.4 L658.4,576.6 L661.8,576.0 L665.2,575.6 L668.7,575.6 L672.1,575.7 L675.5,576.1 L679.0,576.7 L682.4,577.6 L685.8,578.7 L689.2,579.9 L692.7,581.4 L696.1,583.0 L699.5,584.8 L703.0,586.8 L706.4,588.9 L709.8,591.2 L713.3,593.6 L716.7,596.1 L720.1,598.7 L723.5,601.4 L727.0,604.2 L730.4,607.1 L733.8,610.1 L737.3,613.1 L740.7,616.2 L744.1,619.4 L747.6,622.5 L751.0,625.7 L754.4,628.9 L757.9,632.2 L761.3,635.4 L764.7,638.7 L768.1,641.9 L771.6,645.1 L775.0,648.4 L778.4,651.6 L781.9,654.8 L785.3,657.9 L788.7,661.1 L792.1,664.2 L795.6,667.3 L799.0,670.3 L802.4,673.3 L805.9,676.3 L809.3,679.3 L812.7,682.2 L816.2,685.0 L819.6,687.8 L823.0,690.6 L826.5,693.4 L829.9,696.1 L833.3,698.7 L836.7,701.4 L840.2,704.0 L843.6,706.5 L847.0,709.0 L850.5,711.5 L853.9,713.9 L857.3,716.3 L860.8,718.7 L864.2,721.0 L867.6,723.3 L871.0,725.6 L874.5,727.8 L877.9,730.1 L881.3,732.2 L884.8,734.4 L888.2,736.5 L891.6,738.6 L895.1,740.6 L898.5,742.7 L901.9,744.7 L905.3,746.7 L908.8,748.6 L912.2,750.6 L915.6,752.5 L919.1,754.4 L922.5,756.3 L925.9,758.1 L929.4,759.9 L932.8,761.7 L936.2,763.5 L939.6,765.2 L943.1,767.0 L946.5,768.7 L949.9,770.4 L953.4,772.1 L956.8,773.7 L960.2,775.3 L963.6,776.9 L967.1,778.5 L970.5,780.1 L973.9,781.6 L977.4,783.1 L980.8,784.6 L984.2,786.1 L987.7,787.6 L991.1,789.0 L994.5,790.4 L998.0,791.8 L1001.4,793.2 L1004.8,794.5 L1008.2,795.9 L1011.7,797.2 L1015.1,798.5 L1018.5,799.7 L1022.0,801.0 L1025.4,802.2 L1028.8,803.4 L1032.2,804.6 L1035.7,805.7 L1039.1,806.8 L1042.5,808.0 L1046.0,809.0 L1049.4,810.1 L1052.8,811.2 L1056.3,812.2 L1059.7,813.2 L1063.1,814.2 L1066.6,815.1 L1070.0,816.1 L1073.4,817.0 L1076.8,817.9 L1080.3,818.8 L1083.7,819.7 L1087.1,820.4 L1090.6,821.2 L1094.0,821.9 L1097.4,822.6 L1100.8,823.3 L1104.3,824.0 L1107.7,824.6 L1111.1,825.2 L1114.6,825.9 L1118.0,826.5 L1121.4,827.0 L1124.9,827.6 L1128.3,828.1 L1131.7,828.7 L1135.2,829.2 L1138.6,829.7 L1142.0,830.2 L1145.4,830.6 L1148.9,831.1 L1152.3,831.5 L1155.7,831.9 L1159.2,832.3 L1162.6,832.6 L1166.0,833.0 L1169.5,833.2 L1172.9,833.6 L1176.3,833.8 L1179.7,833.9 L1183.2,833.9 L1186.6,833.7 L1190.0,833.2 L1193.5,832.3 L1196.9,830.6 L1200.3,828.1 L1203.8,824.0 L1205.5,821.2" fill="none" stroke="#808080" stroke-width="2.6" stroke-linejoin="round" stroke-linecap="round"/>
<path d="M260.5,847.9 L263.9,847.9 L267.4,847.9 L270.8,847.9 L274.2,847.9 L277.6,847.9 L281.1,847.9 L284.5,847.9 L287.9,847.9 L291.4,847.9 L294.8,847.9 L298.2,847.9 L301.7,847.9 L305.1,847.9 L308.5,847.8 L311.9,847.8 L315.4,847.8 L318.8,847.8 L322.2,847.8 L325.7,847.8 L329.1,847.8 L332.5,847.7 L336.0,847.7 L339.4,847.7 L342.8,847.7 L346.2,847.6 L349.7,847.6 L353.1,847.5 L356.5,847.4 L360.0,847.4 L363.4,847.3 L366.8,847.2 L370.3,847.1 L373.7,847.0 L377.1,846.8 L380.6,846.7 L384.0,846.5 L387.4,846.3 L390.8,846.0 L394.3,845.8 L397.7,845.5 L401.1,845.1 L404.6,844.8 L408.0,844.4 L411.4,843.9 L414.9,843.4 L418.3,842.8 L421.7,842.2 L425.1,841.5 L428.6,840.8 L432.0,839.9 L435.4,839.0 L438.9,838.0 L442.3,836.9 L445.7,835.8 L449.1,834.5 L452.6,833.1 L456.0,831.6 L459.4,830.0 L462.9,828.3 L466.3,826.5 L469.7,824.5 L473.2,822.4 L476.6,820.2 L480.0,817.8 L483.5,815.3 L486.9,812.6 L490.3,809.8 L493.7,806.9 L497.2,803.8 L500.6,800.6 L504.0,797.2 L507.5,793.8 L510.9,790.1 L514.3,786.4 L517.8,782.5 L521.2,778.5 L524.6,774.4 L528.0,770.1 L531.5,765.8 L534.9,761.4 L538.3,756.9 L541.8,752.3 L545.2,747.7 L548.6,743.0 L552.0,738.3 L555.5,733.5 L558.9,728.8 L562.3,724.0 L565.8,719.3 L569.2,714.5 L572.6,709.8 L576.1,705.2 L579.5,700.6 L582.9,696.1 L586.4,691.7 L589.8,687.4 L593.2,683.2 L596.6,679.1 L600.1,675.2 L603.5,671.4 L606.9,667.7 L610.4,664.3 L613.8,661.0 L617.2,657.8 L620.7,654.9 L624.1,652.2 L627.5,649.6 L630.9,647.3 L634.4,645.2 L637.8,643.3 L641.2,641.6 L644.7,640.1 L648.1,638.8 L651.5,637.7 L655.0,636.8 L658.4,636.2 L661.8,635.7 L665.2,635.5 L668.7,635.4 L672.1,635.5 L675.5,635.8 L679.0,636.3 L682.4,637.0 L685.8,637.8 L689.2,638.8 L692.7,639.9 L696.1,641.2 L699.5,642.6 L703.0,644.2 L706.4,645.8 L709.8,647.6 L713.3,649.4 L716.7,651.4 L720.1,653.5 L723.5,655.6 L727.0,657.8 L730.4,660.0 L733.8,662.4 L737.3,664.7 L740.7,667.1 L744.1,669.6 L747.6,672.0 L751.0,674.5 L754.4,677.0 L757.9,679.6 L761.3,682.1 L764.7,684.6 L768.1,687.2 L771.6,689.7 L775.0,692.2 L778.4,694.7 L781.9,697.2 L785.3,699.7 L788.7,702.1 L792.1,704.6 L795.6,707.0 L799.0,709.3 L802.4,711.7 L805.9,714.0 L809.3,716.3 L812.7,718.6 L816.2,720.8 L819.6,723.0 L823.0,725.2 L826.5,727.3 L829.9,729.4 L833.3,731.5 L836.7,733.6 L840.2,735.6 L843.6,737.6 L847.0,739.5 L850.5,741.5 L853.9,743.4 L857.3,745.2 L860.8,747.1 L864.2,748.9 L867.6,750.7 L871.0,752.5 L874.5,754.2 L877.9,755.9 L881.3,757.6 L884.8,759.3 L888.2,761.0 L891.6,762.6 L895.1,764.2 L898.5,765.8 L901.9,767.4 L905.3,768.9 L908.8,770.4 L912.2,772.0 L915.6,773.5 L919.1,774.9 L922.5,776.4 L925.9,777.8 L929.4,779.2 L932.8,780.6 L936.2,782.0 L939.6,783.4 L943.1,784.8 L946.5,786.1 L949.9,787.4 L953.4,788.7 L956.8,790.0 L960.2,791.3 L963.6,792.5 L967.1,793.8 L970.5,795.0 L973.9,796.2 L977.4,797.4 L980.8,798.5 L984.2,799.7 L987.7,800.8 L991.1,801.9 L994.5,803.1 L998.0,804.1 L1001.4,805.2 L1004.8,806.3 L1008.2,807.3 L1011.7,808.3 L1015.1,809.3 L1018.5,810.3 L1022.0,811.3 L1025.4,812.2 L1028.8,813.2 L1032.2,814.1 L1035.7,815.0 L1039.1,815.9 L1042.5,816.7 L1046.0,817.6 L1049.4,818.4 L1052.8,819.2 L1056.3,820.0 L1059.7,820.8 L1063.1,821.6 L1066.6,822.3 L1070.0,823.1 L1073.4,823.8 L1076.8,824.5 L1080.3,825.2 L1083.7,825.9 L1087.1,826.5 L1090.6,827.0 L1094.0,827.6 L1097.4,828.2 L1100.8,828.7 L1104.3,829.2 L1107.7,829.7 L1111.1,830.2 L1114.6,830.7 L1118.0,831.2 L1121.4,831.6 L1124.9,832.1 L1128.3,832.5 L1131.7,832.9 L1135.2,833.3 L1138.6,833.7 L1142.0,834.0 L1145.4,834.4 L1148.9,834.8 L1152.3,835.1 L1155.7,835.4 L1159.2,835.7 L1162.6,836.0 L1166.0,836.2 L1169.5,836.5 L1172.9,836.7 L1176.3,836.9 L1179.7,837.0 L1183.2,837.0 L1186.6,836.8 L1190.0,836.4 L1193.5,835.7 L1196.9,834.4 L1200.3,832.4 L1203.8,829.3 L1205.5,827.1" fill="none" stroke="#808080" stroke-width="2.6" stroke-linejoin="round" stroke-linecap="round"/>
<path d="M260.5,847.9 L263.9,847.9 L267.4,847.9 L270.8,847.9 L274.2,847.9 L277.6,847.9 L281.1,847.9 L284.5,847.9 L287.9,847.9 L291.4,847.9 L294.8,847.9 L298.2,847.9 L301.7,847.9 L305.1,847.9 L308.5,847.9 L311.9,847.8 L315.4,847.8 L318.8,847.8 L322.2,847.8 L325.7,847.8 L329.1,847.8 L332.5,847.8 L336.0,847.7 L339.4,847.7 L342.8,847.7 L346.2,847.7 L349.7,847.6 L353.1,847.6 L356.5,847.5 L360.0,847.5 L363.4,847.4 L366.8,847.3 L370.3,847.2 L373.7,847.1 L377.1,847.0 L380.6,846.9 L384.0,846.7 L387.4,846.6 L390.8,846.4 L394.3,846.2 L397.7,845.9 L401.1,845.7 L404.6,845.4 L408.0,845.0 L411.4,844.7 L414.9,844.3 L418.3,843.8 L421.7,843.3 L425.1,842.8 L428.6,842.1 L432.0,841.5 L435.4,840.7 L438.9,839.9 L442.3,839.1 L445.7,838.1 L449.1,837.1 L452.6,836.0 L456.0,834.8 L459.4,833.5 L462.9,832.1 L466.3,830.6 L469.7,829.0 L473.2,827.3 L476.6,825.5 L480.0,823.6 L483.5,821.6 L486.9,819.5 L490.3,817.2 L493.7,814.8 L497.2,812.4 L500.6,809.8 L504.0,807.1 L507.5,804.3 L510.9,801.3 L514.3,798.3 L517.8,795.2 L521.2,791.9 L524.6,788.6 L528.0,785.2 L531.5,781.7 L534.9,778.2 L538.3,774.5 L541.8,770.9 L545.2,767.1 L548.6,763.4 L552.0,759.5 L555.5,755.7 L558.9,751.9 L562.3,748.0 L565.8,744.2 L569.2,740.4 L572.6,736.6 L576.1,732.9 L579.5,729.2 L582.9,725.6 L586.4,722.0 L589.8,718.5 L593.2,715.1 L596.6,711.9 L600.1,708.7 L603.5,705.6 L606.9,702.7 L610.4,699.9 L613.8,697.2 L617.2,694.7 L620.7,692.4 L624.1,690.1 L627.5,688.1 L630.9,686.2 L634.4,684.5 L637.8,683.0 L641.2,681.6 L644.7,680.4 L648.1,679.3 L651.5,678.5 L655.0,677.8 L658.4,677.2 L661.8,676.9 L665.2,676.7 L668.7,676.6 L672.1,676.7 L675.5,677.0 L679.0,677.4 L682.4,677.9 L685.8,678.6 L689.2,679.4 L692.7,680.3 L696.1,681.3 L699.5,682.4 L703.0,683.7 L706.4,685.0 L709.8,686.4 L713.3,687.9 L716.7,689.5 L720.1,691.2 L723.5,692.9 L727.0,694.7 L730.4,696.5 L733.8,698.3 L737.3,700.3 L740.7,702.2 L744.1,704.2 L747.6,706.2 L751.0,708.2 L754.4,710.2 L757.9,712.2 L761.3,714.3 L764.7,716.3 L768.1,718.3 L771.6,720.4 L775.0,722.4 L778.4,724.4 L781.9,726.4 L785.3,728.4 L788.7,730.4 L792.1,732.4 L795.6,734.3 L799.0,736.2 L802.4,738.1 L805.9,740.0 L809.3,741.8 L812.7,743.7 L816.2,745.5 L819.6,747.2 L823.0,749.0 L826.5,750.7 L829.9,752.4 L833.3,754.1 L836.7,755.7 L840.2,757.4 L843.6,759.0 L847.0,760.6 L850.5,762.1 L853.9,763.6 L857.3,765.2 L860.8,766.6 L864.2,768.1 L867.6,769.6 L871.0,771.0 L874.5,772.4 L877.9,773.8 L881.3,775.1 L884.8,776.5 L888.2,777.8 L891.6,779.1 L895.1,780.4 L898.5,781.7 L901.9,783.0 L905.3,784.2 L908.8,785.5 L912.2,786.7 L915.6,787.9 L919.1,789.1 L922.5,790.3 L925.9,791.4 L929.4,792.6 L932.8,793.7 L936.2,794.8 L939.6,795.9 L943.1,797.0 L946.5,798.1 L949.9,799.1 L953.4,800.2 L956.8,801.2 L960.2,802.3 L963.6,803.3 L967.1,804.3 L970.5,805.2 L973.9,806.2 L977.4,807.2 L980.8,808.1 L984.2,809.0 L987.7,810.0 L991.1,810.9 L994.5,811.7 L998.0,812.6 L1001.4,813.5 L1004.8,814.3 L1008.2,815.2 L1011.7,816.0 L1015.1,816.8 L1018.5,817.6 L1022.0,818.4 L1025.4,819.1 L1028.8,819.9 L1032.2,820.6 L1035.7,821.4 L1039.1,822.1 L1042.5,822.8 L1046.0,823.5 L1049.4,824.1 L1052.8,824.8 L1056.3,825.4 L1059.7,826.1 L1063.1,826.7 L1066.6,827.3 L1070.0,827.9 L1073.4,828.5 L1076.8,829.0 L1080.3,829.6 L1083.7,830.1 L1087.1,830.6 L1090.6,831.1 L1094.0,831.5 L1097.4,832.0 L1100.8,832.4 L1104.3,832.8 L1107.7,833.2 L1111.1,833.6 L1114.6,834.0 L1118.0,834.4 L1121.4,834.8 L1124.9,835.1 L1128.3,835.5 L1131.7,835.8 L1135.2,836.1 L1138.6,836.4 L1142.0,836.7 L1145.4,837.0 L1148.9,837.3 L1152.3,837.6 L1155.7,837.8 L1159.2,838.1 L1162.6,838.3 L1166.0,838.5 L1169.5,838.7 L1172.9,838.9 L1176.3,839.0 L1179.7,839.1 L1183.2,839.1 L1186.6,839.0 L1190.0,838.7 L1193.5,838.1 L1196.9,837.0 L1200.3,835.4 L1203.8,832.9 L1205.5,831.1" fill="none" stroke="#808080" stroke-width="2.6" stroke-linejoin="round" stroke-linecap="round"/>
<path d="M260.5,847.9 L263.9,847.9 L267.4,847.9 L270.8,847.9 L274.2,847.9 L277.6,847.9 L281.1,847.9 L284.5,847.9 L287.9,847.9 L291.4,847.9 L294.8,847.9 L298.2,847.9 L301.7,847.9 L305.1,847.9 L308.5,847.9 L311.9,847.9 L315.4,847.8 L318.8,847.8 L322.2,847.8 L325.7,847.8 L329.1,847.8 L332.5,847.8 L336.0,847.8 L339.4,847.8 L342.8,847.7 L346.2,847.7 L349.7,847.7 L353.1,847.7 L356.5,847.6 L360.0,847.6 L363.4,847.5 L366.8,847.5 L370.3,847.4 L373.7,847.3 L377.1,847.2 L380.6,847.2 L384.0,847.0 L387.4,846.9 L390.8,846.8 L394.3,846.6 L397.7,846.4 L401.1,846.3 L404.6,846.0 L408.0,845.8 L411.4,845.5 L414.9,845.2 L418.3,844.9 L421.7,844.5 L425.1,844.1 L428.6,843.6 L432.0,843.1 L435.4,842.6 L438.9,842.0 L442.3,841.4 L445.7,840.7 L449.1,839.9 L452.6,839.1 L456.0,838.2 L459.4,837.2 L462.9,836.2 L466.3,835.1 L469.7,833.9 L473.2,832.7 L476.6,831.3 L480.0,829.9 L483.5,828.4 L486.9,826.8 L490.3,825.2 L493.7,823.4 L497.2,821.6 L500.6,819.7 L504.0,817.7 L507.5,815.6 L510.9,813.4 L514.3,811.2 L517.8,808.9 L521.2,806.5 L524.6,804.0 L528.0,801.5 L531.5,798.9 L534.9,796.3 L538.3,793.6 L541.8,790.9 L545.2,788.1 L548.6,785.3 L552.0,782.5 L555.5,779.7 L558.9,776.8 L562.3,774.0 L565.8,771.1 L569.2,768.3 L572.6,765.5 L576.1,762.7 L579.5,760.0 L582.9,757.3 L586.4,754.7 L589.8,752.1 L593.2,749.6 L596.6,747.2 L600.1,744.8 L603.5,742.6 L606.9,740.4 L610.4,738.3 L613.8,736.3 L617.2,734.5 L620.7,732.7 L624.1,731.1 L627.5,729.6 L630.9,728.2 L634.4,726.9 L637.8,725.8 L641.2,724.8 L644.7,723.9 L648.1,723.1 L651.5,722.5 L655.0,721.9 L658.4,721.6 L661.8,721.3 L665.2,721.1 L668.7,721.1 L672.1,721.2 L675.5,721.3 L679.0,721.6 L682.4,722.0 L685.8,722.5 L689.2,723.1 L692.7,723.8 L696.1,724.6 L699.5,725.4 L703.0,726.3 L706.4,727.3 L709.8,728.4 L713.3,729.5 L716.7,730.6 L720.1,731.9 L723.5,733.1 L727.0,734.4 L730.4,735.8 L733.8,737.2 L737.3,738.6 L740.7,740.0 L744.1,741.5 L747.6,743.0 L751.0,744.4 L754.4,745.9 L757.9,747.4 L761.3,749.0 L764.7,750.5 L768.1,752.0 L771.6,753.5 L775.0,755.0 L778.4,756.5 L781.9,758.0 L785.3,759.4 L788.7,760.9 L792.1,762.4 L795.6,763.8 L799.0,765.2 L802.4,766.6 L805.9,768.0 L809.3,769.4 L812.7,770.7 L816.2,772.1 L819.6,773.4 L823.0,774.7 L826.5,775.9 L829.9,777.2 L833.3,778.4 L836.7,779.7 L840.2,780.9 L843.6,782.1 L847.0,783.2 L850.5,784.4 L853.9,785.5 L857.3,786.6 L860.8,787.7 L864.2,788.8 L867.6,789.9 L871.0,791.0 L874.5,792.0 L877.9,793.0 L881.3,794.0 L884.8,795.0 L888.2,796.0 L891.6,797.0 L895.1,798.0 L898.5,798.9 L901.9,799.8 L905.3,800.8 L908.8,801.7 L912.2,802.6 L915.6,803.5 L919.1,804.3 L922.5,805.2 L925.9,806.1 L929.4,806.9 L932.8,807.8 L936.2,808.6 L939.6,809.4 L943.1,810.2 L946.5,811.0 L949.9,811.8 L953.4,812.6 L956.8,813.3 L960.2,814.1 L963.6,814.8 L967.1,815.6 L970.5,816.3 L973.9,817.0 L977.4,817.7 L980.8,818.4 L984.2,819.1 L987.7,819.8 L991.1,820.5 L994.5,821.1 L998.0,821.8 L1001.4,822.4 L1004.8,823.0 L1008.2,823.7 L1011.7,824.3 L1015.1,824.9 L1018.5,825.5 L1022.0,826.0 L1025.4,826.6 L1028.8,827.2 L1032.2,827.7 L1035.7,828.2 L1039.1,828.8 L1042.5,829.3 L1046.0,829.8 L1049.4,830.3 L1052.8,830.8 L1056.3,831.3 L1059.7,831.7 L1063.1,832.2 L1066.6,832.6 L1070.0,833.1 L1073.4,833.5 L1076.8,833.9 L1080.3,834.3 L1083.7,834.7 L1087.1,835.1 L1090.6,835.4 L1094.0,835.8 L1097.4,836.1 L1100.8,836.4 L1104.3,836.7 L1107.7,837.0 L1111.1,837.3 L1114.6,837.6 L1118.0,837.9 L1121.4,838.2 L1124.9,838.4 L1128.3,838.7 L1131.7,838.9 L1135.2,839.2 L1138.6,839.4 L1142.0,839.6 L1145.4,839.8 L1148.9,840.0 L1152.3,840.2 L1155.7,840.4 L1159.2,840.6 L1162.6,840.8 L1166.0,840.9 L1169.5,841.1 L1172.9,841.2 L1176.3,841.3 L1179.7,841.4 L1183.2,841.4 L1186.6,841.3 L1190.0,841.0 L1193.5,840.6 L1196.9,839.9 L1200.3,838.6 L1203.8,836.8 L1205.5,835.5" fill="none" stroke="#808080" stroke-width="2.6" stroke-linejoin="round" stroke-linecap="round"/>
<path d="M260.5,847.9 L263.9,847.9 L267.4,847.9 L270.8,847.9 L274.2,847.9 L277.6,847.9 L281.1,847.9 L284.5,847.9 L287.9,847.9 L291.4,847.9 L294.8,847.9 L298.2,847.9 L301.7,847.9 L305.1,847.9 L308.5,847.9 L311.9,847.9 L315.4,847.9 L318.8,847.8 L322.2,847.8 L325.7,847.8 L329.1,847.8 L332.5,847.8 L336.0,847.8 L339.4,847.8 L342.8,847.8 L346.2,847.7 L349.7,847.7 L353.1,847.7 L356.5,847.6 L360.0,847.6 L363.4,847.6 L366.8,847.5 L370.3,847.5 L373.7,847.4 L377.1,847.3 L380.6,847.2 L384.0,847.1 L387.4,847.0 L390.8,846.9 L394.3,846.7 L397.7,846.6 L401.1,846.4 L404.6,846.2 L408.0,846.0 L411.4,845.7 L414.9,845.5 L418.3,845.2 L421.7,844.8 L425.1,844.4 L428.6,844.0 L432.0,843.6 L435.4,843.1 L438.9,842.6 L442.3,842.0 L445.7,841.3 L449.1,840.6 L452.6,839.9 L456.0,839.1 L459.4,838.2 L462.9,837.3 L466.3,836.3 L469.7,835.2 L473.2,834.1 L476.6,832.9 L480.0,831.6 L483.5,830.3 L486.9,828.8 L490.3,827.3 L493.7,825.7 L497.2,824.1 L500.6,822.3 L504.0,820.5 L507.5,818.6 L510.9,816.7 L514.3,814.6 L517.8,812.5 L521.2,810.4 L524.6,808.2 L528.0,805.9 L531.5,803.5 L534.9,801.2 L538.3,798.7 L541.8,796.3 L545.2,793.8 L548.6,791.2 L552.0,788.7 L555.5,786.1 L558.9,783.5 L562.3,781.0 L565.8,778.4 L569.2,775.8 L572.6,773.3 L576.1,770.8 L579.5,768.3 L582.9,765.9 L586.4,763.5 L589.8,761.2 L593.2,758.9 L596.6,756.7 L600.1,754.6 L603.5,752.5 L606.9,750.6 L610.4,748.7 L613.8,746.9 L617.2,745.2 L620.7,743.6 L624.1,742.2 L627.5,740.8 L630.9,739.5 L634.4,738.4 L637.8,737.3 L641.2,736.4 L644.7,735.6 L648.1,734.9 L651.5,734.3 L655.0,733.9 L658.4,733.5 L661.8,733.3 L665.2,733.1 L668.7,733.1 L672.1,733.1 L675.5,733.3 L679.0,733.6 L682.4,733.9 L685.8,734.4 L689.2,734.9 L692.7,735.5 L696.1,736.2 L699.5,737.0 L703.0,737.8 L706.4,738.7 L709.8,739.7 L713.3,740.7 L716.7,741.7 L720.1,742.8 L723.5,744.0 L727.0,745.2 L730.4,746.4 L733.8,747.6 L737.3,748.9 L740.7,750.2 L744.1,751.5 L747.6,752.9 L751.0,754.2 L754.4,755.6 L757.9,756.9 L761.3,758.3 L764.7,759.7 L768.1,761.0 L771.6,762.4 L775.0,763.8 L778.4,765.1 L781.9,766.5 L785.3,767.8 L788.7,769.1 L792.1,770.4 L795.6,771.7 L799.0,773.0 L802.4,774.3 L805.9,775.6 L809.3,776.8 L812.7,778.0 L816.2,779.2 L819.6,780.4 L823.0,781.6 L826.5,782.7 L829.9,783.9 L833.3,785.0 L836.7,786.1 L840.2,787.2 L843.6,788.3 L847.0,789.3 L850.5,790.4 L853.9,791.4 L857.3,792.4 L860.8,793.4 L864.2,794.4 L867.6,795.4 L871.0,796.3 L874.5,797.3 L877.9,798.2 L881.3,799.1 L884.8,800.0 L888.2,800.9 L891.6,801.8 L895.1,802.7 L898.5,803.5 L901.9,804.4 L905.3,805.2 L908.8,806.0 L912.2,806.9 L915.6,807.7 L919.1,808.5 L922.5,809.3 L925.9,810.0 L929.4,810.8 L932.8,811.6 L936.2,812.3 L939.6,813.0 L943.1,813.8 L946.5,814.5 L949.9,815.2 L953.4,815.9 L956.8,816.6 L960.2,817.3 L963.6,818.0 L967.1,818.6 L970.5,819.3 L973.9,819.9 L977.4,820.6 L980.8,821.2 L984.2,821.8 L987.7,822.5 L991.1,823.1 L994.5,823.7 L998.0,824.2 L1001.4,824.8 L1004.8,825.4 L1008.2,826.0 L1011.7,826.5 L1015.1,827.0 L1018.5,827.6 L1022.0,828.1 L1025.4,828.6 L1028.8,829.1 L1032.2,829.6 L1035.7,830.1 L1039.1,830.6 L1042.5,831.1 L1046.0,831.5 L1049.4,832.0 L1052.8,832.4 L1056.3,832.8 L1059.7,833.3 L1063.1,833.7 L1066.6,834.1 L1070.0,834.5 L1073.4,834.9 L1076.8,835.2 L1080.3,835.6 L1083.7,836.0 L1087.1,836.3 L1090.6,836.6 L1094.0,836.9 L1097.4,837.2 L1100.8,837.5 L1104.3,837.8 L1107.7,838.1 L1111.1,838.3 L1114.6,838.6 L1118.0,838.8 L1121.4,839.1 L1124.9,839.3 L1128.3,839.6 L1131.7,839.8 L1135.2,840.0 L1138.6,840.2 L1142.0,840.4 L1145.4,840.6 L1148.9,840.8 L1152.3,841.0 L1155.7,841.1 L1159.2,841.3 L1162.6,841.5 L1166.0,841.6 L1169.5,841.7 L1172.9,841.8 L1176.3,841.9 L1179.7,842.0 L1183.2,842.0 L1186.6,841.9 L1190.0,841.7 L1193.5,841.3 L1196.9,840.6 L1200.3,839.5 L1203.8,837.8 L1205.5,836.7" fill="none" stroke="#808080" stroke-width="2.6" stroke-linejoin="round" stroke-linecap="round"/>
<path d="M260.5,847.9 L263.9,847.9 L267.4,847.9 L270.8,847.9 L274.2,847.9 L277.6,847.9 L281.1,847.9 L284.5,847.9 L287.9,847.9 L291.4,847.9 L294.8,847.9 L298.2,847.9 L301.7,847.9 L305.1,847.9 L308.5,847.9 L311.9,847.9 L315.4,847.9 L318.8,847.9 L322.2,847.8 L325.7,847.8 L329.1,847.8 L332.5,847.8 L336.0,847.8 L339.4,847.8 L342.8,847.8 L346.2,847.8 L349.7,847.7 L353.1,847.7 L356.5,847.7 L360.0,847.7 L363.4,847.6 L366.8,847.6 L370.3,847.5 L373.7,847.5 L377.1,847.4 L380.6,847.3 L384.0,847.2 L387.4,847.2 L390.8,847.0 L394.3,846.9 L397.7,846.8 L401.1,846.6 L404.6,846.5 L408.0,846.3 L411.4,846.1 L414.9,845.9 L418.3,845.6 L421.7,845.3 L425.1,845.0 L428.6,844.7 L432.0,844.3 L435.4,843.9 L438.9,843.4 L442.3,842.9 L445.7,842.4 L449.1,841.8 L452.6,841.2 L456.0,840.5 L459.4,839.8 L462.9,839.0 L466.3,838.2 L469.7,837.3 L473.2,836.4 L476.6,835.4 L480.0,834.3 L483.5,833.2 L486.9,832.0 L490.3,830.7 L493.7,829.4 L497.2,828.0 L500.6,826.5 L504.0,825.0 L507.5,823.4 L510.9,821.8 L514.3,820.1 L517.8,818.4 L521.2,816.5 L524.6,814.7 L528.0,812.8 L531.5,810.8 L534.9,808.8 L538.3,806.8 L541.8,804.7 L545.2,802.6 L548.6,800.5 L552.0,798.4 L555.5,796.3 L558.9,794.1 L562.3,792.0 L565.8,789.8 L569.2,787.7 L572.6,785.6 L576.1,783.5 L579.5,781.4 L582.9,779.4 L586.4,777.4 L589.8,775.4 L593.2,773.5 L596.6,771.7 L600.1,769.9 L603.5,768.2 L606.9,766.5 L610.4,765.0 L613.8,763.5 L617.2,762.1 L620.7,760.8 L624.1,759.5 L627.5,758.4 L630.9,757.3 L634.4,756.4 L637.8,755.5 L641.2,754.7 L644.7,754.0 L648.1,753.5 L651.5,753.0 L655.0,752.6 L658.4,752.3 L661.8,752.1 L665.2,752.0 L668.7,751.9 L672.1,752.0 L675.5,752.1 L679.0,752.4 L682.4,752.7 L685.8,753.0 L689.2,753.5 L692.7,754.0 L696.1,754.6 L699.5,755.2 L703.0,755.9 L706.4,756.6 L709.8,757.4 L713.3,758.3 L716.7,759.2 L720.1,760.1 L723.5,761.1 L727.0,762.1 L730.4,763.1 L733.8,764.1 L737.3,765.2 L740.7,766.3 L744.1,767.4 L747.6,768.5 L751.0,769.6 L754.4,770.7 L757.9,771.9 L761.3,773.0 L764.7,774.2 L768.1,775.3 L771.6,776.5 L775.0,777.6 L778.4,778.7 L781.9,779.8 L785.3,781.0 L788.7,782.1 L792.1,783.2 L795.6,784.3 L799.0,785.3 L802.4,786.4 L805.9,787.4 L809.3,788.5 L812.7,789.5 L816.2,790.5 L819.6,791.5 L823.0,792.5 L826.5,793.4 L829.9,794.4 L833.3,795.3 L836.7,796.3 L840.2,797.2 L843.6,798.1 L847.0,799.0 L850.5,799.8 L853.9,800.7 L857.3,801.5 L860.8,802.4 L864.2,803.2 L867.6,804.0 L871.0,804.8 L874.5,805.6 L877.9,806.4 L881.3,807.1 L884.8,807.9 L888.2,808.6 L891.6,809.4 L895.1,810.1 L898.5,810.8 L901.9,811.5 L905.3,812.2 L908.8,812.9 L912.2,813.6 L915.6,814.3 L919.1,814.9 L922.5,815.6 L925.9,816.2 L929.4,816.9 L932.8,817.5 L936.2,818.2 L939.6,818.8 L943.1,819.4 L946.5,820.0 L949.9,820.6 L953.4,821.2 L956.8,821.7 L960.2,822.3 L963.6,822.9 L967.1,823.4 L970.5,824.0 L973.9,824.5 L977.4,825.1 L980.8,825.6 L984.2,826.1 L987.7,826.6 L991.1,827.1 L994.5,827.6 L998.0,828.1 L1001.4,828.6 L1004.8,829.1 L1008.2,829.6 L1011.7,830.0 L1015.1,830.5 L1018.5,830.9 L1022.0,831.4 L1025.4,831.8 L1028.8,832.2 L1032.2,832.6 L1035.7,833.0 L1039.1,833.4 L1042.5,833.8 L1046.0,834.2 L1049.4,834.6 L1052.8,834.9 L1056.3,835.3 L1059.7,835.7 L1063.1,836.0 L1066.6,836.3 L1070.0,836.7 L1073.4,837.0 L1076.8,837.3 L1080.3,837.6 L1083.7,837.9 L1087.1,838.2 L1090.6,838.5 L1094.0,838.7 L1097.4,839.0 L1100.8,839.2 L1104.3,839.5 L1107.7,839.7 L1111.1,839.9 L1114.6,840.1 L1118.0,840.3 L1121.4,840.5 L1124.9,840.7 L1128.3,840.9 L1131.7,841.1 L1135.2,841.3 L1138.6,841.5 L1142.0,841.6 L1145.4,841.8 L1148.9,842.0 L1152.3,842.1 L1155.7,842.2 L1159.2,842.4 L1162.6,842.5 L1166.0,842.6 L1169.5,842.7 L1172.9,842.8 L1176.3,842.9 L1179.7,843.0 L1183.2,843.0 L1186.6,842.9 L1190.0,842.7 L1193.5,842.4 L1196.9,841.8 L1200.3,840.9 L1203.8,839.5 L1205.5,838.5" fill="none" stroke="#808080" stroke-width="2.6" stroke-linejoin="round" stroke-linecap="round"/>
<path d="M260.5,847.9 L263.9,847.9 L267.4,847.9 L270.8,847.9 L274.2,847.9 L277.6,847.9 L281.1,847.9 L284.5,847.9 L287.9,847.9 L291.4,847.9 L294.8,847.9 L298.2,847.9 L301.7,847.9 L305.1,847.9 L308.5,847.9 L311.9,847.9 L315.4,847.9 L318.8,847.9 L322.2,847.9 L325.7,847.8 L329.1,847.8 L332.5,847.8 L336.0,847.8 L339.4,847.8 L342.8,847.8 L346.2,847.8 L349.7,847.8 L353.1,847.8 L356.5,847.7 L360.0,847.7 L363.4,847.7 L366.8,847.7 L370.3,847.6 L373.7,847.6 L377.1,847.5 L380.6,847.5 L384.0,847.4 L387.4,847.4 L390.8,847.3 L394.3,847.2 L397.7,847.1 L401.1,847.0 L404.6,846.9 L408.0,846.8 L411.4,846.6 L414.9,846.5 L418.3,846.3 L421.7,846.1 L425.1,845.9 L428.6,845.6 L432.0,845.4 L435.4,845.1 L438.9,844.8 L442.3,844.4 L445.7,844.1 L449.1,843.7 L452.6,843.2 L456.0,842.8 L459.4,842.3 L462.9,841.7 L466.3,841.1 L469.7,840.5 L473.2,839.9 L476.6,839.2 L480.0,838.4 L483.5,837.6 L486.9,836.8 L490.3,835.9 L493.7,835.0 L497.2,834.0 L500.6,833.0 L504.0,832.0 L507.5,830.9 L510.9,829.7 L514.3,828.5 L517.8,827.3 L521.2,826.1 L524.6,824.8 L528.0,823.4 L531.5,822.1 L534.9,820.7 L538.3,819.3 L541.8,817.8 L545.2,816.4 L548.6,814.9 L552.0,813.4 L555.5,811.9 L558.9,810.4 L562.3,808.9 L565.8,807.4 L569.2,805.9 L572.6,804.5 L576.1,803.0 L579.5,801.6 L582.9,800.1 L586.4,798.8 L589.8,797.4 L593.2,796.1 L596.6,794.8 L600.1,793.6 L603.5,792.4 L606.9,791.2 L610.4,790.1 L613.8,789.1 L617.2,788.1 L620.7,787.2 L624.1,786.3 L627.5,785.5 L630.9,784.8 L634.4,784.1 L637.8,783.5 L641.2,783.0 L644.7,782.5 L648.1,782.1 L651.5,781.8 L655.0,781.5 L658.4,781.3 L661.8,781.1 L665.2,781.1 L668.7,781.0 L672.1,781.1 L675.5,781.2 L679.0,781.3 L682.4,781.5 L685.8,781.8 L689.2,782.1 L692.7,782.5 L696.1,782.9 L699.5,783.3 L703.0,783.8 L706.4,784.3 L709.8,784.9 L713.3,785.5 L716.7,786.1 L720.1,786.7 L723.5,787.4 L727.0,788.1 L730.4,788.8 L733.8,789.5 L737.3,790.3 L740.7,791.0 L744.1,791.8 L747.6,792.6 L751.0,793.4 L754.4,794.1 L757.9,794.9 L761.3,795.7 L764.7,796.5 L768.1,797.3 L771.6,798.1 L775.0,798.9 L778.4,799.7 L781.9,800.5 L785.3,801.3 L788.7,802.0 L792.1,802.8 L795.6,803.6 L799.0,804.3 L802.4,805.0 L805.9,805.8 L809.3,806.5 L812.7,807.2 L816.2,807.9 L819.6,808.6 L823.0,809.3 L826.5,810.0 L829.9,810.6 L833.3,811.3 L836.7,811.9 L840.2,812.6 L843.6,813.2 L847.0,813.8 L850.5,814.4 L853.9,815.0 L857.3,815.6 L860.8,816.2 L864.2,816.8 L867.6,817.3 L871.0,817.9 L874.5,818.4 L877.9,819.0 L881.3,819.5 L884.8,820.0 L888.2,820.5 L891.6,821.1 L895.1,821.6 L898.5,822.1 L901.9,822.6 L905.3,823.0 L908.8,823.5 L912.2,824.0 L915.6,824.5 L919.1,824.9 L922.5,825.4 L925.9,825.8 L929.4,826.3 L932.8,826.7 L936.2,827.2 L939.6,827.6 L943.1,828.0 L946.5,828.4 L949.9,828.9 L953.4,829.3 L956.8,829.7 L960.2,830.1 L963.6,830.5 L967.1,830.9 L970.5,831.2 L973.9,831.6 L977.4,832.0 L980.8,832.4 L984.2,832.7 L987.7,833.1 L991.1,833.4 L994.5,833.8 L998.0,834.1 L1001.4,834.5 L1004.8,834.8 L1008.2,835.1 L1011.7,835.4 L1015.1,835.8 L1018.5,836.1 L1022.0,836.4 L1025.4,836.7 L1028.8,837.0 L1032.2,837.2 L1035.7,837.5 L1039.1,837.8 L1042.5,838.1 L1046.0,838.4 L1049.4,838.6 L1052.8,838.9 L1056.3,839.1 L1059.7,839.4 L1063.1,839.6 L1066.6,839.8 L1070.0,840.1 L1073.4,840.3 L1076.8,840.5 L1080.3,840.7 L1083.7,841.0 L1087.1,841.1 L1090.6,841.3 L1094.0,841.5 L1097.4,841.7 L1100.8,841.8 L1104.3,842.0 L1107.7,842.2 L1111.1,842.3 L1114.6,842.5 L1118.0,842.6 L1121.4,842.8 L1124.9,842.9 L1128.3,843.0 L1131.7,843.2 L1135.2,843.3 L1138.6,843.4 L1142.0,843.5 L1145.4,843.6 L1148.9,843.8 L1152.3,843.9 L1155.7,844.0 L1159.2,844.0 L1162.6,844.1 L1166.0,844.2 L1169.5,844.3 L1172.9,844.4 L1176.3,844.4 L1179.7,844.5 L1183.2,844.5 L1186.6,844.4 L1190.0,844.3 L1193.5,844.0 L1196.9,843.6 L1200.3,843.0 L1203.8,842.0 L1205.5,841.3" fill="none" stroke="#808080" stroke-width="2.6" stroke-linejoin="round" stroke-linecap="round"/>
<path d="M260.5,847.9 L263.9,847.9 L267.4,847.9 L270.8,847.9 L274.2,847.9 L277.6,847.9 L281.1,847.9 L284.5,847.9 L287.9,847.9 L291.4,847.9 L294.8,847.9 L298.2,847.9 L301.7,847.9 L305.1,847.9 L308.5,847.9 L311.9,847.9 L315.4,847.9 L318.8,847.9 L322.2,847.9 L325.7,847.9 L329.1,847.8 L332.5,847.8 L336.0,847.8 L339.4,847.8 L342.8,847.8 L346.2,847.8 L349.7,847.8 L353.1,847.8 L356.5,847.7 L360.0,847.7 L363.4,847.7 L366.8,847.7 L370.3,847.6 L373.7,847.6 L377.1,847.6 L380.6,847.5 L384.0,847.5 L387.4,847.4 L390.8,847.3 L394.3,847.2 L397.7,847.2 L401.1,847.1 L404.6,847.0 L408.0,846.8 L411.4,846.7 L414.9,846.5 L418.3,846.4 L421.7,846.2 L425.1,846.0 L428.6,845.7 L432.0,845.5 L435.4,845.2 L438.9,844.9 L442.3,844.6 L445.7,844.2 L449.1,843.9 L452.6,843.5 L456.0,843.0 L459.4,842.5 L462.9,842.0 L466.3,841.5 L469.7,840.9 L473.2,840.2 L476.6,839.6 L480.0,838.9 L483.5,838.1 L486.9,837.3 L490.3,836.5 L493.7,835.6 L497.2,834.7 L500.6,833.7 L504.0,832.7 L507.5,831.7 L510.9,830.6 L514.3,829.4 L517.8,828.3 L521.2,827.1 L524.6,825.8 L528.0,824.6 L531.5,823.3 L534.9,821.9 L538.3,820.6 L541.8,819.2 L545.2,817.8 L548.6,816.4 L552.0,815.0 L555.5,813.6 L558.9,812.2 L562.3,810.7 L565.8,809.3 L569.2,807.9 L572.6,806.5 L576.1,805.1 L579.5,803.7 L582.9,802.4 L586.4,801.1 L589.8,799.8 L593.2,798.5 L596.6,797.3 L600.1,796.1 L603.5,795.0 L606.9,793.9 L610.4,792.8 L613.8,791.8 L617.2,790.9 L620.7,790.0 L624.1,789.2 L627.5,788.4 L630.9,787.7 L634.4,787.1 L637.8,786.5 L641.2,786.0 L644.7,785.6 L648.1,785.2 L651.5,784.9 L655.0,784.6 L658.4,784.4 L661.8,784.3 L665.2,784.2 L668.7,784.2 L672.1,784.2 L675.5,784.3 L679.0,784.4 L682.4,784.6 L685.8,784.9 L689.2,785.2 L692.7,785.5 L696.1,785.9 L699.5,786.3 L703.0,786.8 L706.4,787.3 L709.8,787.8 L713.3,788.4 L716.7,789.0 L720.1,789.6 L723.5,790.2 L727.0,790.9 L730.4,791.6 L733.8,792.3 L737.3,793.0 L740.7,793.7 L744.1,794.4 L747.6,795.2 L751.0,795.9 L754.4,796.7 L757.9,797.4 L761.3,798.2 L764.7,798.9 L768.1,799.7 L771.6,800.4 L775.0,801.2 L778.4,802.0 L781.9,802.7 L785.3,803.4 L788.7,804.2 L792.1,804.9 L795.6,805.6 L799.0,806.3 L802.4,807.0 L805.9,807.7 L809.3,808.4 L812.7,809.1 L816.2,809.8 L819.6,810.4 L823.0,811.1 L826.5,811.7 L829.9,812.4 L833.3,813.0 L836.7,813.6 L840.2,814.2 L843.6,814.8 L847.0,815.4 L850.5,816.0 L853.9,816.5 L857.3,817.1 L860.8,817.7 L864.2,818.2 L867.6,818.7 L871.0,819.3 L874.5,819.8 L877.9,820.3 L881.3,820.8 L884.8,821.3 L888.2,821.8 L891.6,822.3 L895.1,822.8 L898.5,823.3 L901.9,823.7 L905.3,824.2 L908.8,824.7 L912.2,825.1 L915.6,825.6 L919.1,826.0 L922.5,826.4 L925.9,826.9 L929.4,827.3 L932.8,827.7 L936.2,828.1 L939.6,828.5 L943.1,829.0 L946.5,829.4 L949.9,829.8 L953.4,830.1 L956.8,830.5 L960.2,830.9 L963.6,831.3 L967.1,831.7 L970.5,832.0 L973.9,832.4 L977.4,832.7 L980.8,833.1 L984.2,833.4 L987.7,833.8 L991.1,834.1 L994.5,834.4 L998.0,834.8 L1001.4,835.1 L1004.8,835.4 L1008.2,835.7 L1011.7,836.0 L1015.1,836.3 L1018.5,836.6 L1022.0,836.9 L1025.4,837.2 L1028.8,837.5 L1032.2,837.7 L1035.7,838.0 L1039.1,838.3 L1042.5,838.5 L1046.0,838.8 L1049.4,839.0 L1052.8,839.3 L1056.3,839.5 L1059.7,839.8 L1063.1,840.0 L1066.6,840.2 L1070.0,840.4 L1073.4,840.7 L1076.8,840.9 L1080.3,841.1 L1083.7,841.3 L1087.1,841.5 L1090.6,841.6 L1094.0,841.8 L1097.4,842.0 L1100.8,842.1 L1104.3,842.3 L1107.7,842.4 L1111.1,842.6 L1114.6,842.7 L1118.0,842.9 L1121.4,843.0 L1124.9,843.1 L1128.3,843.3 L1131.7,843.4 L1135.2,843.5 L1138.6,843.6 L1142.0,843.7 L1145.4,843.8 L1148.9,843.9 L1152.3,844.0 L1155.7,844.1 L1159.2,844.2 L1162.6,844.3 L1166.0,844.4 L1169.5,844.5 L1172.9,844.5 L1176.3,844.6 L1179.7,844.6 L1183.2,844.6 L1186.6,844.6 L1190.0,844.4 L1193.5,844.2 L1196.9,843.8 L1200.3,843.2 L1203.8,842.3 L1205.5,841.7" fill="none" stroke="#808080" stroke-width="2.6" stroke-linejoin="round" stroke-linecap="round"/>
<path d="M260.5,847.9 L263.9,847.9 L267.4,847.9 L270.8,847.9 L274.2,847.9 L277.6,847.9 L281.1,847.9 L284.5,847.9 L287.9,847.9 L291.4,847.9 L294.8,847.9 L298.2,847.9 L301.7,847.9 L305.1,847.9 L308.5,847.9 L311.9,847.9 L315.4,847.9 L318.8,847.9 L322.2,847.9 L325.7,847.9 L329.1,847.8 L332.5,847.8 L336.0,847.8 L339.4,847.8 L342.8,847.8 L346.2,847.8 L349.7,847.8 L353.1,847.8 L356.5,847.8 L360.0,847.7 L363.4,847.7 L366.8,847.7 L370.3,847.7 L373.7,847.6 L377.1,847.6 L380.6,847.5 L384.0,847.5 L387.4,847.4 L390.8,847.4 L394.3,847.3 L397.7,847.2 L401.1,847.1 L404.6,847.0 L408.0,846.9 L411.4,846.7 L414.9,846.6 L418.3,846.4 L421.7,846.3 L425.1,846.1 L428.6,845.9 L432.0,845.6 L435.4,845.4 L438.9,845.1 L442.3,844.8 L445.7,844.4 L449.1,844.1 L452.6,843.7 L456.0,843.2 L459.4,842.8 L462.9,842.3 L466.3,841.8 L469.7,841.2 L473.2,840.6 L476.6,840.0 L480.0,839.3 L483.5,838.6 L486.9,837.8 L490.3,837.0 L493.7,836.2 L497.2,835.3 L500.6,834.4 L504.0,833.4 L507.5,832.4 L510.9,831.4 L514.3,830.3 L517.8,829.2 L521.2,828.1 L524.6,826.9 L528.0,825.7 L531.5,824.5 L534.9,823.2 L538.3,821.9 L541.8,820.6 L545.2,819.3 L548.6,818.0 L552.0,816.6 L555.5,815.3 L558.9,813.9 L562.3,812.6 L565.8,811.2 L569.2,809.9 L572.6,808.5 L576.1,807.2 L579.5,805.9 L582.9,804.6 L586.4,803.3 L589.8,802.1 L593.2,800.9 L596.6,799.8 L600.1,798.6 L603.5,797.6 L606.9,796.5 L610.4,795.5 L613.8,794.6 L617.2,793.7 L620.7,792.9 L624.1,792.1 L627.5,791.4 L630.9,790.7 L634.4,790.1 L637.8,789.5 L641.2,789.1 L644.7,788.6 L648.1,788.3 L651.5,788.0 L655.0,787.7 L658.4,787.5 L661.8,787.4 L665.2,787.3 L668.7,787.3 L672.1,787.3 L675.5,787.4 L679.0,787.6 L682.4,787.7 L685.8,788.0 L689.2,788.3 L692.7,788.6 L696.1,789.0 L699.5,789.4 L703.0,789.8 L706.4,790.3 L709.8,790.8 L713.3,791.3 L716.7,791.9 L720.1,792.4 L723.5,793.1 L727.0,793.7 L730.4,794.3 L733.8,795.0 L737.3,795.7 L740.7,796.3 L744.1,797.0 L747.6,797.7 L751.0,798.5 L754.4,799.2 L757.9,799.9 L761.3,800.6 L764.7,801.3 L768.1,802.1 L771.6,802.8 L775.0,803.5 L778.4,804.2 L781.9,804.9 L785.3,805.6 L788.7,806.3 L792.1,807.0 L795.6,807.7 L799.0,808.4 L802.4,809.0 L805.9,809.7 L809.3,810.4 L812.7,811.0 L816.2,811.6 L819.6,812.3 L823.0,812.9 L826.5,813.5 L829.9,814.1 L833.3,814.7 L836.7,815.3 L840.2,815.9 L843.6,816.4 L847.0,817.0 L850.5,817.5 L853.9,818.1 L857.3,818.6 L860.8,819.1 L864.2,819.7 L867.6,820.2 L871.0,820.7 L874.5,821.2 L877.9,821.7 L881.3,822.2 L884.8,822.6 L888.2,823.1 L891.6,823.6 L895.1,824.0 L898.5,824.5 L901.9,824.9 L905.3,825.4 L908.8,825.8 L912.2,826.2 L915.6,826.7 L919.1,827.1 L922.5,827.5 L925.9,827.9 L929.4,828.3 L932.8,828.7 L936.2,829.1 L939.6,829.5 L943.1,829.9 L946.5,830.3 L949.9,830.6 L953.4,831.0 L956.8,831.4 L960.2,831.7 L963.6,832.1 L967.1,832.4 L970.5,832.8 L973.9,833.1 L977.4,833.5 L980.8,833.8 L984.2,834.1 L987.7,834.5 L991.1,834.8 L994.5,835.1 L998.0,835.4 L1001.4,835.7 L1004.8,836.0 L1008.2,836.3 L1011.7,836.6 L1015.1,836.9 L1018.5,837.2 L1022.0,837.4 L1025.4,837.7 L1028.8,838.0 L1032.2,838.2 L1035.7,838.5 L1039.1,838.8 L1042.5,839.0 L1046.0,839.2 L1049.4,839.5 L1052.8,839.7 L1056.3,839.9 L1059.7,840.2 L1063.1,840.4 L1066.6,840.6 L1070.0,840.8 L1073.4,841.0 L1076.8,841.2 L1080.3,841.4 L1083.7,841.6 L1087.1,841.8 L1090.6,841.9 L1094.0,842.1 L1097.4,842.3 L1100.8,842.4 L1104.3,842.6 L1107.7,842.7 L1111.1,842.8 L1114.6,843.0 L1118.0,843.1 L1121.4,843.2 L1124.9,843.4 L1128.3,843.5 L1131.7,843.6 L1135.2,843.7 L1138.6,843.8 L1142.0,843.9 L1145.4,844.0 L1148.9,844.1 L1152.3,844.2 L1155.7,844.3 L1159.2,844.4 L1162.6,844.5 L1166.0,844.6 L1169.5,844.6 L1172.9,844.7 L1176.3,844.7 L1179.7,844.8 L1183.2,844.8 L1186.6,844.7 L1190.0,844.6 L1193.5,844.4 L1196.9,844.0 L1200.3,843.5 L1203.8,842.6 L1205.5,842.0" fill="none" stroke="#808080" stroke-width="2.6" stroke-linejoin="round" stroke-linecap="round"/>
<path d="M260.5,847.9 L263.9,847.9 L267.4,847.9 L270.8,847.9 L274.2,847.9 L277.6,847.9 L281.1,847.9 L284.5,847.9 L287.9,847.9 L291.4,847.9 L294.8,847.9 L298.2,847.9 L301.7,847.9 L305.1,847.9 L308.5,847.9 L311.9,847.9 L315.4,847.9 L318.8,847.9 L322.2,847.9 L325.7,847.9 L329.1,847.9 L332.5,847.9 L336.0,847.9 L339.4,847.9 L342.8,847.9 L346.2,847.9 L349.7,847.9 L353.1,847.9 L356.5,847.9 L360.0,847.9 L363.4,847.9 L366.8,847.9 L370.3,847.9 L373.7,847.9 L377.1,847.9 L380.6,847.9 L384.0,847.9 L387.4,847.9 L390.8,847.9 L394.3,847.8 L397.7,847.8 L401.1,847.8 L404.6,847.8 L408.0,847.8 L411.4,847.8 L414.9,847.8 L418.3,847.8 L421.7,847.8 L425.1,847.8 L428.6,847.8 L432.0,847.8 L435.4,847.8 L438.9,847.7 L442.3,847.7 L445.7,847.7 L449.1,847.7 L452.6,847.7 L456.0,847.6 L459.4,847.6 L462.9,847.6 L466.3,847.6 L469.7,847.5 L473.2,847.5 L476.6,847.5 L480.0,847.4 L483.5,847.4 L486.9,847.4 L490.3,847.3 L493.7,847.3 L497.2,847.2 L500.6,847.2 L504.0,847.1 L507.5,847.1 L510.9,847.0 L514.3,847.0 L517.8,846.9 L521.2,846.9 L524.6,846.8 L528.0,846.7 L531.5,846.7 L534.9,846.6 L538.3,846.5 L541.8,846.5 L545.2,846.4 L548.6,846.3 L552.0,846.3 L555.5,846.2 L558.9,846.1 L562.3,846.1 L565.8,846.0 L569.2,845.9 L572.6,845.9 L576.1,845.8 L579.5,845.7 L582.9,845.6 L586.4,845.6 L589.8,845.5 L593.2,845.5 L596.6,845.4 L600.1,845.3 L603.5,845.3 L606.9,845.2 L610.4,845.2 L613.8,845.1 L617.2,845.1 L620.7,845.0 L624.1,845.0 L627.5,845.0 L630.9,844.9 L634.4,844.9 L637.8,844.9 L641.2,844.8 L644.7,844.8 L648.1,844.8 L651.5,844.8 L655.0,844.8 L658.4,844.8 L661.8,844.8 L665.2,844.8 L668.7,844.8 L672.1,844.8 L675.5,844.8 L679.0,844.8 L682.4,844.8 L685.8,844.8 L689.2,844.8 L692.7,844.8 L696.1,844.8 L699.5,844.9 L703.0,844.9 L706.4,844.9 L709.8,844.9 L713.3,845.0 L716.7,845.0 L720.1,845.0 L723.5,845.1 L727.0,845.1 L730.4,845.1 L733.8,845.2 L737.3,845.2 L740.7,845.2 L744.1,845.3 L747.6,845.3 L751.0,845.3 L754.4,845.4 L757.9,845.4 L761.3,845.4 L764.7,845.5 L768.1,845.5 L771.6,845.6 L775.0,845.6 L778.4,845.6 L781.9,845.7 L785.3,845.7 L788.7,845.7 L792.1,845.8 L795.6,845.8 L799.0,845.8 L802.4,845.9 L805.9,845.9 L809.3,845.9 L812.7,846.0 L816.2,846.0 L819.6,846.0 L823.0,846.1 L826.5,846.1 L829.9,846.1 L833.3,846.2 L836.7,846.2 L840.2,846.2 L843.6,846.3 L847.0,846.3 L850.5,846.3 L853.9,846.3 L857.3,846.4 L860.8,846.4 L864.2,846.4 L867.6,846.5 L871.0,846.5 L874.5,846.5 L877.9,846.5 L881.3,846.6 L884.8,846.6 L888.2,846.6 L891.6,846.6 L895.1,846.7 L898.5,846.7 L901.9,846.7 L905.3,846.7 L908.8,846.7 L912.2,846.8 L915.6,846.8 L919.1,846.8 L922.5,846.8 L925.9,846.9 L929.4,846.9 L932.8,846.9 L936.2,846.9 L939.6,846.9 L943.1,847.0 L946.5,847.0 L949.9,847.0 L953.4,847.0 L956.8,847.0 L960.2,847.0 L963.6,847.1 L967.1,847.1 L970.5,847.1 L973.9,847.1 L977.4,847.1 L980.8,847.2 L984.2,847.2 L987.7,847.2 L991.1,847.2 L994.5,847.2 L998.0,847.2 L1001.4,847.3 L1004.8,847.3 L1008.2,847.3 L1011.7,847.3 L1015.1,847.3 L1018.5,847.3 L1022.0,847.3 L1025.4,847.4 L1028.8,847.4 L1032.2,847.4 L1035.7,847.4 L1039.1,847.4 L1042.5,847.4 L1046.0,847.4 L1049.4,847.4 L1052.8,847.5 L1056.3,847.5 L1059.7,847.5 L1063.1,847.5 L1066.6,847.5 L1070.0,847.5 L1073.4,847.5 L1076.8,847.5 L1080.3,847.5 L1083.7,847.6 L1087.1,847.6 L1090.6,847.6 L1094.0,847.6 L1097.4,847.6 L1100.8,847.6 L1104.3,847.6 L1107.7,847.6 L1111.1,847.6 L1114.6,847.6 L1118.0,847.6 L1121.4,847.6 L1124.9,847.6 L1128.3,847.7 L1131.7,847.7 L1135.2,847.7 L1138.6,847.7 L1142.0,847.7 L1145.4,847.7 L1148.9,847.7 L1152.3,847.7 L1155.7,847.7 L1159.2,847.7 L1162.6,847.7 L1166.0,847.7 L1169.5,847.7 L1172.9,847.7 L1176.3,847.7 L1179.7,847.7 L1183.2,847.7 L1186.6,847.7 L1190.0,847.7 L1193.5,847.7 L1196.9,847.7 L1200.3,847.7 L1203.8,847.6 L1205.5,847.6" fill="none" stroke="#808080" stroke-width="2.6" stroke-linejoin="round" stroke-linecap="round"/>
<path d="M260.5,845.6 L263.9,845.6 L267.4,845.6 L270.8,845.6 L274.2,845.6 L277.6,845.6 L281.1,845.6 L284.5,845.6 L287.9,845.6 L291.4,845.6 L294.8,845.6 L298.2,845.6 L301.7,845.6 L305.1,845.6 L308.5,845.6 L311.9,845.5 L315.4,845.5 L318.8,845.5 L322.2,845.5 L325.7,845.4 L329.1,845.4 L332.5,845.3 L336.0,845.3 L339.4,845.2 L342.8,845.2 L346.2,845.1 L349.7,845.0 L353.1,844.9 L356.5,844.7 L360.0,844.6 L363.4,844.4 L366.8,844.2 L370.3,844.0 L373.7,843.7 L377.1,843.4 L380.6,843.1 L384.0,842.7 L387.4,842.3 L390.8,841.8 L394.3,841.3 L397.7,840.7 L401.1,840.0 L404.6,839.3 L408.0,838.4 L411.4,837.5 L414.9,836.4 L418.3,835.2 L421.7,834.0 L425.1,832.5 L428.6,831.0 L432.0,829.3 L435.4,827.4 L438.9,825.4 L442.3,823.1 L445.7,820.7 L449.1,818.1 L452.6,815.2 L456.0,812.2 L459.4,808.9 L462.9,805.3 L466.3,801.5 L469.7,797.5 L473.2,793.2 L476.6,788.6 L480.0,783.7 L483.5,778.5 L486.9,773.1 L490.3,767.3 L493.7,761.3 L497.2,754.9 L500.6,748.3 L504.0,741.4 L507.5,734.2 L510.9,726.8 L514.3,719.0 L517.8,711.0 L521.2,702.8 L524.6,694.3 L528.0,685.6 L531.5,676.7 L534.9,667.6 L538.3,658.3 L541.8,648.9 L545.2,639.4 L548.6,629.8 L552.0,620.1 L555.5,610.3 L558.9,600.5 L562.3,590.7 L565.8,580.9 L569.2,571.1 L572.6,561.5 L576.1,551.9 L579.5,542.5 L582.9,533.2 L586.4,524.2 L589.8,515.3 L593.2,506.6 L596.6,498.2 L600.1,490.1 L603.5,482.3 L606.9,474.8 L610.4,467.7 L613.8,460.9 L617.2,454.5 L620.7,448.5 L624.1,442.8 L627.5,437.6 L630.9,432.8 L634.4,428.4 L637.8,424.5 L641.2,420.9 L644.7,417.9 L648.1,415.2 L651.5,413.0 L655.0,411.2 L658.4,409.9 L661.8,408.9 L665.2,408.4 L668.7,408.3 L672.1,408.5 L675.5,409.2 L679.0,410.2 L682.4,411.5 L685.8,413.2 L689.2,415.3 L692.7,417.6 L696.1,420.2 L699.5,423.1 L703.0,426.3 L706.4,429.7 L709.8,433.3 L713.3,437.2 L716.7,441.2 L720.1,445.4 L723.5,449.8 L727.0,454.3 L730.4,459.0 L733.8,463.8 L737.3,468.6 L740.7,473.6 L744.1,478.6 L747.6,483.7 L751.0,488.8 L754.4,494.0 L757.9,499.2 L761.3,504.4 L764.7,509.6 L768.1,514.8 L771.6,520.0 L775.0,525.2 L778.4,530.4 L781.9,535.5 L785.3,540.6 L788.7,545.6 L792.1,550.6 L795.6,555.6 L799.0,560.5 L802.4,565.3 L805.9,570.1 L809.3,574.8 L812.7,579.5 L816.2,584.1 L819.6,588.6 L823.0,593.1 L826.5,597.5 L829.9,601.8 L833.3,606.1 L836.7,610.3 L840.2,614.5 L843.6,618.6 L847.0,622.6 L850.5,626.6 L853.9,630.5 L857.3,634.4 L860.8,638.2 L864.2,641.9 L867.6,645.6 L871.0,649.3 L874.5,652.9 L877.9,656.4 L881.3,659.9 L884.8,663.3 L888.2,666.7 L891.6,670.1 L895.1,673.4 L898.5,676.7 L901.9,679.9 L905.3,683.1 L908.8,686.3 L912.2,689.4 L915.6,692.4 L919.1,695.5 L922.5,698.5 L925.9,701.4 L929.4,704.4 L932.8,707.2 L936.2,710.1 L939.6,712.9 L943.1,715.7 L946.5,718.5 L949.9,721.2 L953.4,723.9 L956.8,726.5 L960.2,729.1 L963.6,731.7 L967.1,734.2 L970.5,736.7 L973.9,739.2 L977.4,741.7 L980.8,744.1 L984.2,746.4 L987.7,748.8 L991.1,751.1 L994.5,753.4 L998.0,755.6 L1001.4,757.8 L1004.8,760.0 L1008.2,762.1 L1011.7,764.2 L1015.1,766.3 L1018.5,768.3 L1022.0,770.3 L1025.4,772.2 L1028.8,774.2 L1032.2,776.1 L1035.7,777.9 L1039.1,779.7 L1042.5,781.5 L1046.0,783.3 L1049.4,785.0 L1052.8,786.7 L1056.3,788.3 L1059.7,789.9 L1063.1,791.5 L1066.6,793.1 L1070.0,794.6 L1073.4,796.1 L1076.8,797.5 L1080.3,798.9 L1083.7,800.3 L1087.1,801.5 L1090.6,802.7 L1094.0,803.9 L1097.4,805.0 L1100.8,806.1 L1104.3,807.2 L1107.7,808.3 L1111.1,809.3 L1114.6,810.3 L1118.0,811.2 L1121.4,812.2 L1124.9,813.1 L1128.3,813.9 L1131.7,814.8 L1135.2,815.6 L1138.6,816.4 L1142.0,817.2 L1145.4,817.9 L1148.9,818.6 L1152.3,819.3 L1155.7,819.9 L1159.2,820.6 L1162.6,821.1 L1166.0,821.7 L1169.5,822.1 L1172.9,822.6 L1176.3,823.0 L1179.7,823.2 L1183.2,823.2 L1186.6,822.9 L1190.0,822.1 L1193.5,820.5 L1196.9,817.9 L1200.3,813.8 L1203.8,807.3 L1205.5,802.9" fill="none" stroke="#ff0000" stroke-width="4.0" stroke-linejoin="round" stroke-linecap="round"/>
<path d="M260.5,853.0 L1203.8,853.0" fill="none" stroke="#0000ff" stroke-width="7.5" stroke-linejoin="round" stroke-linecap="round"/>
</g>
<line x1="260.5" y1="867.0" x2="260.5" y2="883.0" stroke="#000" stroke-width="8.5" stroke-linecap="butt"/>
<line x1="432.0" y1="867.0" x2="432.0" y2="883.0" stroke="#000" stroke-width="8.5" stroke-linecap="butt"/>
<line x1="603.5" y1="867.0" x2="603.5" y2="883.0" stroke="#000" stroke-width="8.5" stroke-linecap="butt"/>
<line x1="775.0" y1="867.0" x2="775.0" y2="883.0" stroke="#000" stroke-width="8.5" stroke-linecap="butt"/>
<line x1="946.5" y1="867.0" x2="946.5" y2="883.0" stroke="#000" stroke-width="8.5" stroke-linecap="butt"/>
<line x1="1118.0" y1="867.0" x2="1118.0" y2="883.0" stroke="#000" stroke-width="8.5" stroke-linecap="butt"/>
<line x1="346.2" y1="867.0" x2="346.2" y2="875.0" stroke="#000" stroke-width="8.5" stroke-linecap="butt"/>
<line x1="517.8" y1="867.0" x2="517.8" y2="875.0" stroke="#000" stroke-width="8.5" stroke-linecap="butt"/>
<line x1="689.2" y1="867.0" x2="689.2" y2="875.0" stroke="#000" stroke-width="8.5" stroke-linecap="butt"/>
<line x1="860.8" y1="867.0" x2="860.8" y2="875.0" stroke="#000" stroke-width="8.5" stroke-linecap="butt"/>
<line x1="1032.2" y1="867.0" x2="1032.2" y2="875.0" stroke="#000" stroke-width="8.5" stroke-linecap="butt"/>
<line x1="260.5" y1="856.0" x2="247.0" y2="856.0" stroke="#000" stroke-width="8.5" stroke-linecap="butt"/>
<line x1="260.5" y1="606.2" x2="247.0" y2="606.2" stroke="#000" stroke-width="8.5" stroke-linecap="butt"/>
<line x1="260.5" y1="356.3" x2="247.0" y2="356.3" stroke="#000" stroke-width="8.5" stroke-linecap="butt"/>
<line x1="260.5" y1="106.5" x2="247.0" y2="106.5" stroke="#000" stroke-width="8.5" stroke-linecap="butt"/>
<line x1="260.5" y1="731.1" x2="254.0" y2="731.1" stroke="#000" stroke-width="8.5" stroke-linecap="butt"/>
<line x1="260.5" y1="481.2" x2="254.0" y2="481.2" stroke="#000" stroke-width="8.5" stroke-linecap="butt"/>
<line x1="260.5" y1="231.4" x2="254.0" y2="231.4" stroke="#000" stroke-width="8.5" stroke-linecap="butt"/>
<rect x="260.5" y="106.5" width="943.2" height="760.5" fill="none" stroke="#000" stroke-width="8.5" stroke-linejoin="miter"/>
<text x="260.5" y="937.0" font-size="56.5" text-anchor="middle" fill="#000" font-weight="bold" font-style="normal">500</text>
<text x="432.0" y="937.0" font-size="56.5" text-anchor="middle" fill="#000" font-weight="bold" font-style="normal">550</text>
<text x="603.5" y="937.0" font-size="56.5" text-anchor="middle" fill="#000" font-weight="bold" font-style="normal">600</text>
<text x="775.0" y="937.0" font-size="56.5" text-anchor="middle" fill="#000" font-weight="bold" font-style="normal">650</text>
<text x="946.5" y="937.0" font-size="56.5" text-anchor="middle" fill="#000" font-weight="bold" font-style="normal">700</text>
<text x="1118.0" y="937.0" font-size="56.5" text-anchor="middle" fill="#000" font-weight="bold" font-style="normal">750</text>
<text x="235.0" y="872.6" font-size="56.5" text-anchor="end" fill="#000" font-weight="bold" font-style="normal">0</text>
<text x="235.0" y="622.7" font-size="56.5" text-anchor="end" fill="#000" font-weight="bold" font-style="normal">200</text>
<text x="235.0" y="372.9" font-size="56.5" text-anchor="end" fill="#000" font-weight="bold" font-style="normal">400</text>
<text x="235.0" y="123.0" font-size="56.5" text-anchor="end" fill="#000" font-weight="bold" font-style="normal">600</text>
<text x="78.7" y="488.5" font-size="64.5" text-anchor="middle" fill="#000" font-weight="bold" font-style="normal" transform="rotate(-90 78.7 488.5)">Emission Intensity</text>
<text x="730.0" y="1012.4" font-size="64.5" text-anchor="middle" fill="#000" font-weight="bold" font-style="normal">Wavelength (nm)</text>
<g transform="translate(6.5 84) scale(0.9 1)"><text x="0" y="0" font-size="99" font-weight="bold">a</text></g>
<g transform="translate(316.5 189.7) scale(0.95 1)">
<text x="0.0" y="0.0" font-size="68" text-anchor="start" fill="#000" font-weight="bold" font-style="normal"><tspan font-style="italic">c</tspan> = 10 µM</text>
</g>
<g transform="translate(316.5 268.8) scale(0.95 1)">
<text x="0.0" y="0.0" font-size="68" text-anchor="start" fill="#000" font-weight="bold" font-style="normal"><tspan font-style="italic">f</tspan><tspan font-size="46" dy="17">w</tspan><tspan dy="-17"> = 80%</tspan></text>
</g>
<text x="1034.0" y="206.4" font-size="58.5" text-anchor="middle" fill="#000" font-weight="bold" font-style="normal">PA</text>
<text x="1034.3" y="265.5" font-size="58.5" text-anchor="middle" fill="#ff0000" font-weight="bold" font-style="normal">0</text>
<line x1="1035.7" y1="282.6" x2="1035.7" y2="352.0" stroke="#c0c0c0" stroke-width="7" stroke-linecap="butt"/>
<polygon points="1020.6,350 1049,350 1035.3,404.6" fill="#c0c0c0"/>
<text x="1035.0" y="463.2" font-size="58.5" text-anchor="middle" fill="#0000ff" font-weight="bold" font-style="normal">30 equiv.</text>
<line x1="1534.1" y1="868.0" x2="1534.1" y2="884.0" stroke="#000" stroke-width="8.5" stroke-linecap="butt"/>
<line x1="1668.8" y1="868.0" x2="1668.8" y2="884.0" stroke="#000" stroke-width="8.5" stroke-linecap="butt"/>
<line x1="1803.6" y1="868.0" x2="1803.6" y2="884.0" stroke="#000" stroke-width="8.5" stroke-linecap="butt"/>
<line x1="1938.3" y1="868.0" x2="1938.3" y2="884.0" stroke="#000" stroke-width="8.5" stroke-linecap="butt"/>
<line x1="2073.0" y1="868.0" x2="2073.0" y2="884.0" stroke="#000" stroke-width="8.5" stroke-linecap="butt"/>
<line x1="2207.8" y1="868.0" x2="2207.8" y2="884.0" stroke="#000" stroke-width="8.5" stroke-linecap="butt"/>
<line x1="2342.5" y1="868.0" x2="2342.5" y2="884.0" stroke="#000" stroke-width="8.5" stroke-linecap="butt"/>
<line x1="1466.7" y1="868.0" x2="1466.7" y2="876.0" stroke="#000" stroke-width="8.5" stroke-linecap="butt"/>
<line x1="1601.5" y1="868.0" x2="1601.5" y2="876.0" stroke="#000" stroke-width="8.5" stroke-linecap="butt"/>
<line x1="1736.2" y1="868.0" x2="1736.2" y2="876.0" stroke="#000" stroke-width="8.5" stroke-linecap="butt"/>
<line x1="1870.9" y1="868.0" x2="1870.9" y2="876.0" stroke="#000" stroke-width="8.5" stroke-linecap="butt"/>
<line x1="2005.7" y1="868.0" x2="2005.7" y2="876.0" stroke="#000" stroke-width="8.5" stroke-linecap="butt"/>
<line x1="2140.4" y1="868.0" x2="2140.4" y2="876.0" stroke="#000" stroke-width="8.5" stroke-linecap="butt"/>
<line x1="2275.1" y1="868.0" x2="2275.1" y2="876.0" stroke="#000" stroke-width="8.5" stroke-linecap="butt"/>
<line x1="2409.9" y1="868.0" x2="2409.9" y2="876.0" stroke="#000" stroke-width="8.5" stroke-linecap="butt"/>
<line x1="1466.7" y1="804.5" x2="1453.2" y2="804.5" stroke="#000" stroke-width="8.5" stroke-linecap="butt"/>
<line x1="1466.7" y1="677.6" x2="1453.2" y2="677.6" stroke="#000" stroke-width="8.5" stroke-linecap="butt"/>
<line x1="1466.7" y1="550.6" x2="1453.2" y2="550.6" stroke="#000" stroke-width="8.5" stroke-linecap="butt"/>
<line x1="1466.7" y1="423.7" x2="1453.2" y2="423.7" stroke="#000" stroke-width="8.5" stroke-linecap="butt"/>
<line x1="1466.7" y1="296.7" x2="1453.2" y2="296.7" stroke="#000" stroke-width="8.5" stroke-linecap="butt"/>
<line x1="1466.7" y1="169.8" x2="1453.2" y2="169.8" stroke="#000" stroke-width="8.5" stroke-linecap="butt"/>
<line x1="1466.7" y1="868.0" x2="1460.2" y2="868.0" stroke="#000" stroke-width="8.5" stroke-linecap="butt"/>
<line x1="1466.7" y1="741.0" x2="1460.2" y2="741.0" stroke="#000" stroke-width="8.5" stroke-linecap="butt"/>
<line x1="1466.7" y1="614.1" x2="1460.2" y2="614.1" stroke="#000" stroke-width="8.5" stroke-linecap="butt"/>
<line x1="1466.7" y1="487.1" x2="1460.2" y2="487.1" stroke="#000" stroke-width="8.5" stroke-linecap="butt"/>
<line x1="1466.7" y1="360.2" x2="1460.2" y2="360.2" stroke="#000" stroke-width="8.5" stroke-linecap="butt"/>
<line x1="1466.7" y1="233.3" x2="1460.2" y2="233.3" stroke="#000" stroke-width="8.5" stroke-linecap="butt"/>
<line x1="1466.7" y1="106.3" x2="1460.2" y2="106.3" stroke="#000" stroke-width="8.5" stroke-linecap="butt"/>
<rect x="1466.7" y="106.3" width="943.1" height="761.6" fill="none" stroke="#000" stroke-width="8.5" stroke-linejoin="miter"/>
<text x="1534.1" y="937.0" font-size="56.5" text-anchor="middle" fill="#000" font-weight="bold" font-style="normal">0</text>
<text x="1668.8" y="937.0" font-size="56.5" text-anchor="middle" fill="#000" font-weight="bold" font-style="normal">50</text>
<text x="1803.6" y="937.0" font-size="56.5" text-anchor="middle" fill="#000" font-weight="bold" font-style="normal">100</text>
<text x="1938.3" y="937.0" font-size="56.5" text-anchor="middle" fill="#000" font-weight="bold" font-style="normal">150</text>
<text x="2073.0" y="937.0" font-size="56.5" text-anchor="middle" fill="#000" font-weight="bold" font-style="normal">200</text>
<text x="2207.8" y="937.0" font-size="56.5" text-anchor="middle" fill="#000" font-weight="bold" font-style="normal">250</text>
<text x="2342.5" y="937.0" font-size="56.5" text-anchor="middle" fill="#000" font-weight="bold" font-style="normal">300</text>
<text x="1440.5" y="821.1" font-size="56.5" text-anchor="end" fill="#000" font-weight="bold" font-style="normal">0</text>
<text x="1440.5" y="694.1" font-size="56.5" text-anchor="end" fill="#000" font-weight="bold" font-style="normal">20</text>
<text x="1440.5" y="567.2" font-size="56.5" text-anchor="end" fill="#000" font-weight="bold" font-style="normal">40</text>
<text x="1440.5" y="440.2" font-size="56.5" text-anchor="end" fill="#000" font-weight="bold" font-style="normal">60</text>
<text x="1440.5" y="313.3" font-size="56.5" text-anchor="end" fill="#000" font-weight="bold" font-style="normal">80</text>
<text x="1440.5" y="186.4" font-size="56.5" text-anchor="end" fill="#000" font-weight="bold" font-style="normal">100</text>
<circle cx="1534.1" cy="804.5" r="12" fill="url(#rs)"/>
<circle cx="1536.8" cy="786.1" r="12" fill="url(#rs)"/>
<circle cx="1539.5" cy="777.2" r="12" fill="url(#rs)"/>
<circle cx="1542.2" cy="763.9" r="12" fill="url(#rs)"/>
<circle cx="1544.9" cy="746.7" r="12" fill="url(#rs)"/>
<circle cx="1547.6" cy="729.6" r="12" fill="url(#rs)"/>
<circle cx="1550.3" cy="720.1" r="12" fill="url(#rs)"/>
<circle cx="1553.0" cy="711.8" r="12" fill="url(#rs)"/>
<circle cx="1555.7" cy="700.4" r="12" fill="url(#rs)"/>
<circle cx="1558.4" cy="688.3" r="12" fill="url(#rs)"/>
<circle cx="1561.0" cy="676.3" r="12" fill="url(#rs)"/>
<circle cx="1588.0" cy="569.7" r="12" fill="url(#rs)"/>
<circle cx="1614.9" cy="482.1" r="12" fill="url(#rs)"/>
<circle cx="1641.9" cy="423.7" r="12" fill="url(#rs)"/>
<circle cx="1695.8" cy="341.8" r="12" fill="url(#rs)"/>
<circle cx="1722.7" cy="318.3" r="12" fill="url(#rs)"/>
<circle cx="1776.6" cy="270.1" r="12" fill="url(#rs)"/>
<circle cx="2073.0" cy="186.3" r="12" fill="url(#rs)"/>
<circle cx="2342.5" cy="174.9" r="12" fill="url(#rs)"/>
<text x="1305.0" y="487.8" font-size="64.5" text-anchor="middle" fill="#000" font-weight="bold" font-style="normal" transform="rotate(-90 1305.0 487.8)">Quenching (%)</text>
<text x="1938.6" y="1014.6" font-size="65" text-anchor="middle" fill="#000" font-weight="bold" font-style="normal">PA concentration (µM)</text>
<text x="1241.5" y="83.6" font-size="99" text-anchor="start" fill="#000" font-weight="bold" font-style="normal">b</text>
<line x1="328.5" y1="1828.5" x2="328.5" y2="1844.5" stroke="#000" stroke-width="8.5" stroke-linecap="butt"/>
<line x1="463.1" y1="1828.5" x2="463.1" y2="1844.5" stroke="#000" stroke-width="8.5" stroke-linecap="butt"/>
<line x1="597.7" y1="1828.5" x2="597.7" y2="1844.5" stroke="#000" stroke-width="8.5" stroke-linecap="butt"/>
<line x1="732.3" y1="1828.5" x2="732.3" y2="1844.5" stroke="#000" stroke-width="8.5" stroke-linecap="butt"/>
<line x1="866.9" y1="1828.5" x2="866.9" y2="1844.5" stroke="#000" stroke-width="8.5" stroke-linecap="butt"/>
<line x1="1001.5" y1="1828.5" x2="1001.5" y2="1844.5" stroke="#000" stroke-width="8.5" stroke-linecap="butt"/>
<line x1="1136.1" y1="1828.5" x2="1136.1" y2="1844.5" stroke="#000" stroke-width="8.5" stroke-linecap="butt"/>
<line x1="261.2" y1="1828.5" x2="261.2" y2="1836.5" stroke="#000" stroke-width="8.5" stroke-linecap="butt"/>
<line x1="395.8" y1="1828.5" x2="395.8" y2="1836.5" stroke="#000" stroke-width="8.5" stroke-linecap="butt"/>
<line x1="530.4" y1="1828.5" x2="530.4" y2="1836.5" stroke="#000" stroke-width="8.5" stroke-linecap="butt"/>
<line x1="665.0" y1="1828.5" x2="665.0" y2="1836.5" stroke="#000" stroke-width="8.5" stroke-linecap="butt"/>
<line x1="799.6" y1="1828.5" x2="799.6" y2="1836.5" stroke="#000" stroke-width="8.5" stroke-linecap="butt"/>
<line x1="934.2" y1="1828.5" x2="934.2" y2="1836.5" stroke="#000" stroke-width="8.5" stroke-linecap="butt"/>
<line x1="1068.8" y1="1828.5" x2="1068.8" y2="1836.5" stroke="#000" stroke-width="8.5" stroke-linecap="butt"/>
<line x1="1203.4" y1="1828.5" x2="1203.4" y2="1836.5" stroke="#000" stroke-width="8.5" stroke-linecap="butt"/>
<line x1="261.2" y1="1770.0" x2="247.7" y2="1770.0" stroke="#000" stroke-width="8.5" stroke-linecap="butt"/>
<line x1="261.2" y1="1653.1" x2="247.7" y2="1653.1" stroke="#000" stroke-width="8.5" stroke-linecap="butt"/>
<line x1="261.2" y1="1536.2" x2="247.7" y2="1536.2" stroke="#000" stroke-width="8.5" stroke-linecap="butt"/>
<line x1="261.2" y1="1419.3" x2="247.7" y2="1419.3" stroke="#000" stroke-width="8.5" stroke-linecap="butt"/>
<line x1="261.2" y1="1302.3" x2="247.7" y2="1302.3" stroke="#000" stroke-width="8.5" stroke-linecap="butt"/>
<line x1="261.2" y1="1185.4" x2="247.7" y2="1185.4" stroke="#000" stroke-width="8.5" stroke-linecap="butt"/>
<line x1="261.2" y1="1068.5" x2="247.7" y2="1068.5" stroke="#000" stroke-width="8.5" stroke-linecap="butt"/>
<line x1="261.2" y1="1828.5" x2="254.7" y2="1828.5" stroke="#000" stroke-width="8.5" stroke-linecap="butt"/>
<line x1="261.2" y1="1711.5" x2="254.7" y2="1711.5" stroke="#000" stroke-width="8.5" stroke-linecap="butt"/>
<line x1="261.2" y1="1594.6" x2="254.7" y2="1594.6" stroke="#000" stroke-width="8.5" stroke-linecap="butt"/>
<line x1="261.2" y1="1477.7" x2="254.7" y2="1477.7" stroke="#000" stroke-width="8.5" stroke-linecap="butt"/>
<line x1="261.2" y1="1360.8" x2="254.7" y2="1360.8" stroke="#000" stroke-width="8.5" stroke-linecap="butt"/>
<line x1="261.2" y1="1243.9" x2="254.7" y2="1243.9" stroke="#000" stroke-width="8.5" stroke-linecap="butt"/>
<line x1="261.2" y1="1127.0" x2="254.7" y2="1127.0" stroke="#000" stroke-width="8.5" stroke-linecap="butt"/>
<rect x="261.2" y="1068.5" width="942.2" height="760.0" fill="none" stroke="#000" stroke-width="8.5" stroke-linejoin="miter"/>
<text x="328.5" y="1899.0" font-size="56.5" text-anchor="middle" fill="#000" font-weight="bold" font-style="normal">0</text>
<text x="463.1" y="1899.0" font-size="56.5" text-anchor="middle" fill="#000" font-weight="bold" font-style="normal">50</text>
<text x="597.7" y="1899.0" font-size="56.5" text-anchor="middle" fill="#000" font-weight="bold" font-style="normal">100</text>
<text x="732.3" y="1899.0" font-size="56.5" text-anchor="middle" fill="#000" font-weight="bold" font-style="normal">150</text>
<text x="866.9" y="1899.0" font-size="56.5" text-anchor="middle" fill="#000" font-weight="bold" font-style="normal">200</text>
<text x="1001.5" y="1899.0" font-size="56.5" text-anchor="middle" fill="#000" font-weight="bold" font-style="normal">250</text>
<text x="1136.1" y="1899.0" font-size="56.5" text-anchor="middle" fill="#000" font-weight="bold" font-style="normal">300</text>
<text x="234.0" y="1786.6" font-size="56.5" text-anchor="end" fill="#000" font-weight="bold" font-style="normal">0</text>
<text x="234.0" y="1669.6" font-size="56.5" text-anchor="end" fill="#000" font-weight="bold" font-style="normal">20</text>
<text x="234.0" y="1552.7" font-size="56.5" text-anchor="end" fill="#000" font-weight="bold" font-style="normal">40</text>
<text x="234.0" y="1435.8" font-size="56.5" text-anchor="end" fill="#000" font-weight="bold" font-style="normal">60</text>
<text x="234.0" y="1318.9" font-size="56.5" text-anchor="end" fill="#000" font-weight="bold" font-style="normal">80</text>
<text x="234.0" y="1202.0" font-size="56.5" text-anchor="end" fill="#000" font-weight="bold" font-style="normal">100</text>
<text x="234.0" y="1085.1" font-size="56.5" text-anchor="end" fill="#000" font-weight="bold" font-style="normal">120</text>
<circle cx="328.5" cy="1764.2" r="8.5" fill="url(#gs)"/>
<circle cx="331.2" cy="1764.0" r="8.5" fill="url(#gs)"/>
<circle cx="333.9" cy="1763.9" r="8.5" fill="url(#gs)"/>
<circle cx="336.6" cy="1763.8" r="8.5" fill="url(#gs)"/>
<circle cx="339.3" cy="1763.6" r="8.5" fill="url(#gs)"/>
<circle cx="342.0" cy="1763.4" r="8.5" fill="url(#gs)"/>
<circle cx="347.3" cy="1763.2" r="8.5" fill="url(#gs)"/>
<circle cx="350.0" cy="1763.0" r="8.5" fill="url(#gs)"/>
<circle cx="352.7" cy="1762.9" r="8.5" fill="url(#gs)"/>
<circle cx="355.4" cy="1762.7" r="8.5" fill="url(#gs)"/>
<circle cx="382.3" cy="1760.6" r="8.5" fill="url(#gs)"/>
<circle cx="409.3" cy="1758.3" r="8.5" fill="url(#gs)"/>
<circle cx="436.2" cy="1755.4" r="8.5" fill="url(#gs)"/>
<circle cx="463.1" cy="1750.7" r="8.5" fill="url(#gs)"/>
<circle cx="490.0" cy="1748.4" r="8.5" fill="url(#gs)"/>
<circle cx="516.9" cy="1744.9" r="8.5" fill="url(#gs)"/>
<circle cx="543.9" cy="1737.3" r="8.5" fill="url(#gs)"/>
<circle cx="570.8" cy="1733.8" r="8.5" fill="url(#gs)"/>
<circle cx="597.7" cy="1732.6" r="8.5" fill="url(#gs)"/>
<circle cx="866.9" cy="1546.1" r="8.5" fill="url(#gs)"/>
<circle cx="1136.1" cy="1129.3" r="8.5" fill="url(#gs)"/>
<path d="M328.5,1767.8 L332.6,1767.3 L336.6,1766.9 L340.7,1766.4 L344.7,1765.9 L348.8,1765.4 L352.8,1765.0 L356.9,1764.5 L361.0,1764.0 L365.0,1763.4 L369.1,1762.9 L373.1,1762.4 L377.2,1761.8 L381.3,1761.3 L385.3,1760.7 L389.4,1760.2 L393.4,1759.6 L397.5,1759.0 L401.5,1758.4 L405.6,1757.8 L409.7,1757.2 L413.7,1756.6 L417.8,1756.0 L421.8,1755.3 L425.9,1754.7 L430.0,1754.0 L434.0,1753.3 L438.1,1752.6 L442.1,1751.9 L446.2,1751.2 L450.2,1750.5 L454.3,1749.8 L458.4,1749.0 L462.4,1748.3 L466.5,1747.5 L470.5,1746.7 L474.6,1746.0 L478.7,1745.2 L482.7,1744.3 L486.8,1743.5 L490.8,1742.7 L494.9,1741.8 L498.9,1740.9 L503.0,1740.1 L507.1,1739.2 L511.1,1738.2 L515.2,1737.3 L519.2,1736.4 L523.3,1735.4 L527.4,1734.4 L531.4,1733.5 L535.5,1732.4 L539.5,1731.4 L543.6,1730.4 L547.6,1729.3 L551.7,1728.3 L555.8,1727.2 L559.8,1726.1 L563.9,1724.9 L567.9,1723.8 L572.0,1722.6 L576.1,1721.5 L580.1,1720.3 L584.2,1719.0 L588.2,1717.8 L592.3,1716.6 L596.3,1715.3 L600.4,1714.0 L604.5,1712.7 L608.5,1711.3 L612.6,1710.0 L616.6,1708.6 L620.7,1707.2 L624.8,1705.7 L628.8,1704.3 L632.9,1702.8 L636.9,1701.3 L641.0,1699.8 L645.0,1698.2 L649.1,1696.7 L653.2,1695.1 L657.2,1693.5 L661.3,1691.8 L665.3,1690.1 L669.4,1688.4 L673.5,1686.7 L677.5,1684.9 L681.6,1683.2 L685.6,1681.3 L689.7,1679.5 L693.7,1677.6 L697.8,1675.7 L701.9,1673.8 L705.9,1671.8 L710.0,1669.8 L714.0,1667.8 L718.1,1665.7 L722.2,1663.6 L726.2,1661.5 L730.3,1659.3 L734.3,1657.1 L738.4,1654.9 L742.4,1652.6 L746.5,1650.3 L750.6,1648.0 L754.6,1645.6 L758.7,1643.2 L762.7,1640.7 L766.8,1638.2 L770.9,1635.7 L774.9,1633.1 L779.0,1630.5 L783.0,1627.8 L787.1,1625.1 L791.1,1622.4 L795.2,1619.6 L799.3,1616.7 L803.3,1613.8 L807.4,1610.9 L811.4,1607.9 L815.5,1604.9 L819.6,1601.8 L823.6,1598.7 L827.7,1595.5 L831.7,1592.3 L835.8,1589.0 L839.8,1585.7 L843.9,1582.3 L848.0,1578.9 L852.0,1575.4 L856.1,1571.8 L860.1,1568.2 L864.2,1564.5 L868.3,1560.8 L872.3,1557.0 L876.4,1553.2 L880.4,1549.3 L884.5,1545.3 L888.5,1541.3 L892.6,1537.2 L896.7,1533.0 L900.7,1528.8 L904.8,1524.5 L908.8,1520.1 L912.9,1515.7 L917.0,1511.1 L921.0,1506.6 L925.1,1501.9 L929.1,1497.2 L933.2,1492.3 L937.2,1487.5 L941.3,1482.5 L945.4,1477.4 L949.4,1472.3 L953.5,1467.1 L957.5,1461.8 L961.6,1456.4 L965.7,1451.0 L969.7,1445.4 L973.8,1439.8 L977.8,1434.0 L981.9,1428.2 L985.9,1422.3 L990.0,1416.3 L994.1,1410.1 L998.1,1403.9 L1002.2,1397.6 L1006.2,1391.2 L1010.3,1384.7 L1014.4,1378.1 L1018.4,1371.3 L1022.5,1364.5 L1026.5,1357.5 L1030.6,1350.5 L1034.6,1343.3 L1038.7,1336.0 L1042.8,1328.6 L1046.8,1321.1 L1050.9,1313.4 L1054.9,1305.7 L1059.0,1297.8 L1063.1,1289.8 L1067.1,1281.6 L1071.2,1273.3 L1075.2,1264.9 L1079.3,1256.4 L1083.3,1247.7 L1087.4,1238.8 L1091.5,1229.9 L1095.5,1220.7 L1099.6,1211.5 L1103.6,1202.1 L1107.7,1192.5 L1111.8,1182.8 L1115.8,1172.9 L1119.9,1162.9 L1123.9,1152.7 L1128.0,1142.3 L1132.0,1131.8 L1136.1,1121.1" fill="none" stroke="#ff0000" stroke-width="6" stroke-linejoin="round" stroke-linecap="butt"/>
<circle cx="344.9" cy="1766.9" r="31" fill="none" stroke="#8000ff" stroke-width="4.5"/>
<line x1="359.4" y1="1725.2" x2="436.0" y2="1634.0" stroke="#8000ff" stroke-width="7" stroke-linecap="butt"/>
<polygon points="467.3,1597.2 424.1,1629.6 442.6,1645" fill="#8000ff"/>
<text x="82.5" y="1449.0" font-size="65" text-anchor="middle" fill="#000" font-weight="bold" font-style="normal" transform="rotate(-90 82.5 1449.0)"><tspan font-style="italic">I</tspan><tspan font-size="42" font-weight="normal" font-style="italic" dy="16">0</tspan><tspan dy="-16" font-weight="normal" font-style="italic">/</tspan><tspan font-style="italic">I</tspan></text>
<text x="716.0" y="1715.2" font-size="47" text-anchor="start" fill="#000" font-weight="bold" font-style="normal">R<tspan font-size="31" dy="-18" font-weight="normal">2</tspan><tspan dy="18"> = 0.99</tspan></text>
<text x="716.0" y="1804.5" font-size="47" text-anchor="start" fill="#000" font-weight="bold" font-style="normal">Y = −4.42 + 4.8e<tspan font-size="29" dy="-19">10,600X</tspan></text>
<text x="733.0" y="1978.1" font-size="65" text-anchor="middle" fill="#000" font-weight="bold" font-style="normal">PA concentration (µM)</text>
<text x="15.0" y="1082.0" font-size="99" text-anchor="start" fill="#000" font-weight="bold" font-style="normal">c</text>
<rect x="385.2" y="1130.0" width="467.7" height="381.2" fill="#fff"/>
<line x1="432.0" y1="1511.2" x2="432.0" y2="1518.5" stroke="#000" stroke-width="4" stroke-linecap="butt"/>
<line x1="525.5" y1="1511.2" x2="525.5" y2="1518.5" stroke="#000" stroke-width="4" stroke-linecap="butt"/>
<line x1="619.1" y1="1511.2" x2="619.1" y2="1518.5" stroke="#000" stroke-width="4" stroke-linecap="butt"/>
<line x1="712.6" y1="1511.2" x2="712.6" y2="1518.5" stroke="#000" stroke-width="4" stroke-linecap="butt"/>
<line x1="806.2" y1="1511.2" x2="806.2" y2="1518.5" stroke="#000" stroke-width="4" stroke-linecap="butt"/>
<line x1="385.2" y1="1473.1" x2="378.0" y2="1473.1" stroke="#000" stroke-width="4" stroke-linecap="butt"/>
<line x1="385.2" y1="1396.8" x2="378.0" y2="1396.8" stroke="#000" stroke-width="4" stroke-linecap="butt"/>
<line x1="385.2" y1="1320.6" x2="378.0" y2="1320.6" stroke="#000" stroke-width="4" stroke-linecap="butt"/>
<line x1="385.2" y1="1244.4" x2="378.0" y2="1244.4" stroke="#000" stroke-width="4" stroke-linecap="butt"/>
<line x1="385.2" y1="1168.1" x2="378.0" y2="1168.1" stroke="#000" stroke-width="4" stroke-linecap="butt"/>
<rect x="385.2" y="1130.0" width="467.7" height="381.2" fill="none" stroke="#000" stroke-width="5.5" stroke-linejoin="miter"/>
<text x="432.0" y="1545.0" font-size="29" text-anchor="middle" fill="#000" font-weight="bold" font-style="normal">0</text>
<text x="525.5" y="1545.0" font-size="29" text-anchor="middle" fill="#000" font-weight="bold" font-style="normal">2</text>
<text x="619.1" y="1545.0" font-size="29" text-anchor="middle" fill="#000" font-weight="bold" font-style="normal">4</text>
<text x="712.6" y="1545.0" font-size="29" text-anchor="middle" fill="#000" font-weight="bold" font-style="normal">6</text>
<text x="806.2" y="1545.0" font-size="29" text-anchor="middle" fill="#000" font-weight="bold" font-style="normal">8</text>
<text x="371.5" y="1481.6" font-size="29" text-anchor="end" fill="#000" font-weight="bold" font-style="normal">1.00</text>
<text x="371.5" y="1405.3" font-size="29" text-anchor="end" fill="#000" font-weight="bold" font-style="normal">1.05</text>
<text x="371.5" y="1329.1" font-size="29" text-anchor="end" fill="#000" font-weight="bold" font-style="normal">1.10</text>
<text x="371.5" y="1252.8" font-size="29" text-anchor="end" fill="#000" font-weight="bold" font-style="normal">1.15</text>
<text x="371.5" y="1176.6" font-size="29" text-anchor="end" fill="#000" font-weight="bold" font-style="normal">1.20</text>
<circle cx="432.0" cy="1473.1" r="7" fill="url(#gs)"/>
<circle cx="478.8" cy="1427.3" r="7" fill="url(#gs)"/>
<circle cx="525.5" cy="1406.0" r="7" fill="url(#gs)"/>
<circle cx="572.3" cy="1370.9" r="7" fill="url(#gs)"/>
<circle cx="619.1" cy="1323.6" r="7" fill="url(#gs)"/>
<circle cx="665.9" cy="1271.8" r="7" fill="url(#gs)"/>
<circle cx="759.4" cy="1215.4" r="7" fill="url(#gs)"/>
<circle cx="806.2" cy="1178.8" r="7" fill="url(#gs)"/>
<line x1="432.0" y1="1473.1" x2="806.2" y2="1173.3" stroke="#8000ff" stroke-width="5" stroke-linecap="round"/>
<text x="401.0" y="1172.6" font-size="34.5" text-anchor="start" fill="#000" font-weight="bold" font-style="normal">R<tspan font-size="22" dy="-12" font-weight="normal">2</tspan><tspan dy="12"> = 0.99</tspan></text>
<text x="399.0" y="1220.0" font-size="35" text-anchor="start" fill="#000" font-weight="bold" font-style="normal" textLength="290" lengthAdjust="spacingAndGlyphs">Y = 1.00 + 24,570X</text>
<text x="401.0" y="1273.0" font-size="34.3" text-anchor="start" fill="#000" font-weight="bold" font-style="normal"><tspan font-style="italic">K</tspan><tspan font-size="23" dy="9" font-style="italic" font-weight="normal">SV</tspan><tspan dy="-9"> = 24,570 M</tspan><tspan font-size="22" dy="-13" font-weight="normal">−1</tspan></text>
<text x="618.5" y="1585.5" font-size="32.5" text-anchor="middle" fill="#000" font-weight="bold" font-style="normal">PA concentration (µM)</text>
<text x="304.0" y="1319.0" font-size="32" text-anchor="middle" fill="#000" font-weight="bold" font-style="normal" transform="rotate(-90 304.0 1319.0)"><tspan font-style="italic">I</tspan><tspan font-size="21" font-weight="normal" font-style="italic" dy="6">0</tspan><tspan dy="-6" font-weight="normal" font-style="italic">/</tspan><tspan font-style="italic">I</tspan></text>
<line x1="1559.2" y1="1836.3" x2="1559.2" y2="1852.3" stroke="#000" stroke-width="8.5" stroke-linecap="butt"/>
<line x1="1749.5" y1="1836.3" x2="1749.5" y2="1852.3" stroke="#000" stroke-width="8.5" stroke-linecap="butt"/>
<line x1="1939.8" y1="1836.3" x2="1939.8" y2="1852.3" stroke="#000" stroke-width="8.5" stroke-linecap="butt"/>
<line x1="2130.1" y1="1836.3" x2="2130.1" y2="1852.3" stroke="#000" stroke-width="8.5" stroke-linecap="butt"/>
<line x1="2320.4" y1="1836.3" x2="2320.4" y2="1852.3" stroke="#000" stroke-width="8.5" stroke-linecap="butt"/>
<line x1="1464.0" y1="1836.3" x2="1464.0" y2="1844.3" stroke="#000" stroke-width="8.5" stroke-linecap="butt"/>
<line x1="1654.4" y1="1836.3" x2="1654.4" y2="1844.3" stroke="#000" stroke-width="8.5" stroke-linecap="butt"/>
<line x1="1844.7" y1="1836.3" x2="1844.7" y2="1844.3" stroke="#000" stroke-width="8.5" stroke-linecap="butt"/>
<line x1="2035.0" y1="1836.3" x2="2035.0" y2="1844.3" stroke="#000" stroke-width="8.5" stroke-linecap="butt"/>
<line x1="2225.2" y1="1836.3" x2="2225.2" y2="1844.3" stroke="#000" stroke-width="8.5" stroke-linecap="butt"/>
<line x1="2415.6" y1="1836.3" x2="2415.6" y2="1844.3" stroke="#000" stroke-width="8.5" stroke-linecap="butt"/>
<line x1="1464.0" y1="1836.3" x2="1450.5" y2="1836.3" stroke="#000" stroke-width="8.5" stroke-linecap="butt"/>
<line x1="1464.0" y1="1733.8" x2="1450.5" y2="1733.8" stroke="#000" stroke-width="8.5" stroke-linecap="butt"/>
<line x1="1464.0" y1="1631.2" x2="1450.5" y2="1631.2" stroke="#000" stroke-width="8.5" stroke-linecap="butt"/>
<line x1="1464.0" y1="1528.6" x2="1450.5" y2="1528.6" stroke="#000" stroke-width="8.5" stroke-linecap="butt"/>
<line x1="1464.0" y1="1426.1" x2="1450.5" y2="1426.1" stroke="#000" stroke-width="8.5" stroke-linecap="butt"/>
<line x1="1464.0" y1="1323.5" x2="1450.5" y2="1323.5" stroke="#000" stroke-width="8.5" stroke-linecap="butt"/>
<line x1="1464.0" y1="1221.0" x2="1450.5" y2="1221.0" stroke="#000" stroke-width="8.5" stroke-linecap="butt"/>
<line x1="1464.0" y1="1118.4" x2="1450.5" y2="1118.4" stroke="#000" stroke-width="8.5" stroke-linecap="butt"/>
<line x1="1464.0" y1="1785.0" x2="1457.5" y2="1785.0" stroke="#000" stroke-width="8.5" stroke-linecap="butt"/>
<line x1="1464.0" y1="1682.5" x2="1457.5" y2="1682.5" stroke="#000" stroke-width="8.5" stroke-linecap="butt"/>
<line x1="1464.0" y1="1579.9" x2="1457.5" y2="1579.9" stroke="#000" stroke-width="8.5" stroke-linecap="butt"/>
<line x1="1464.0" y1="1477.4" x2="1457.5" y2="1477.4" stroke="#000" stroke-width="8.5" stroke-linecap="butt"/>
<line x1="1464.0" y1="1374.8" x2="1457.5" y2="1374.8" stroke="#000" stroke-width="8.5" stroke-linecap="butt"/>
<line x1="1464.0" y1="1272.3" x2="1457.5" y2="1272.3" stroke="#000" stroke-width="8.5" stroke-linecap="butt"/>
<line x1="1464.0" y1="1169.7" x2="1457.5" y2="1169.7" stroke="#000" stroke-width="8.5" stroke-linecap="butt"/>
<line x1="1464.0" y1="1067.2" x2="1457.5" y2="1067.2" stroke="#000" stroke-width="8.5" stroke-linecap="butt"/>
<rect x="1464.0" y="1067.2" width="951.5" height="769.1" fill="none" stroke="#000" stroke-width="8.5" stroke-linejoin="miter"/>
<text x="1559.2" y="1907.0" font-size="56.5" text-anchor="middle" fill="#000" font-weight="bold" font-style="normal">0</text>
<text x="1749.5" y="1907.0" font-size="56.5" text-anchor="middle" fill="#000" font-weight="bold" font-style="normal">2</text>
<text x="1939.8" y="1907.0" font-size="56.5" text-anchor="middle" fill="#000" font-weight="bold" font-style="normal">4</text>
<text x="2130.1" y="1907.0" font-size="56.5" text-anchor="middle" fill="#000" font-weight="bold" font-style="normal">6</text>
<text x="2320.4" y="1907.0" font-size="56.5" text-anchor="middle" fill="#000" font-weight="bold" font-style="normal">8</text>
<text x="1436.0" y="1852.9" font-size="56.5" text-anchor="end" fill="#000" font-weight="bold" font-style="normal">290</text>
<text x="1436.0" y="1750.3" font-size="56.5" text-anchor="end" fill="#000" font-weight="bold" font-style="normal">300</text>
<text x="1436.0" y="1647.8" font-size="56.5" text-anchor="end" fill="#000" font-weight="bold" font-style="normal">310</text>
<text x="1436.0" y="1545.2" font-size="56.5" text-anchor="end" fill="#000" font-weight="bold" font-style="normal">320</text>
<text x="1436.0" y="1442.7" font-size="56.5" text-anchor="end" fill="#000" font-weight="bold" font-style="normal">330</text>
<text x="1436.0" y="1340.1" font-size="56.5" text-anchor="end" fill="#000" font-weight="bold" font-style="normal">340</text>
<text x="1436.0" y="1237.6" font-size="56.5" text-anchor="end" fill="#000" font-weight="bold" font-style="normal">350</text>
<text x="1436.0" y="1135.0" font-size="56.5" text-anchor="end" fill="#000" font-weight="bold" font-style="normal">360</text>
<line x1="1559.2" y1="1179.0" x2="2320.4" y2="1775.4" stroke="#ff0000" stroke-width="6.5" stroke-linecap="butt"/>
<circle cx="1559.2" cy="1162.5" r="9" fill="url(#gs)"/>
<circle cx="1654.4" cy="1267.1" r="9" fill="url(#gs)"/>
<circle cx="1749.5" cy="1315.3" r="9" fill="url(#gs)"/>
<circle cx="1844.7" cy="1393.3" r="9" fill="url(#gs)"/>
<circle cx="1939.8" cy="1490.7" r="9" fill="url(#gs)"/>
<circle cx="2035.0" cy="1590.2" r="9" fill="url(#gs)"/>
<circle cx="2225.2" cy="1692.7" r="9" fill="url(#gs)"/>
<circle cx="2320.4" cy="1757.3" r="9" fill="url(#gs)"/>
<text x="1876.0" y="1152.4" font-size="59" text-anchor="start" fill="#000" font-weight="bold" font-style="normal">R<tspan font-size="40" dy="-22" font-weight="normal">2</tspan><tspan dy="22"> = 0.99</tspan></text>
<text x="1876.0" y="1225.5" font-size="57.8" text-anchor="start" fill="#000" font-weight="bold" font-style="normal">Y = 354.10 − 7.27X</text>
<text x="1874.0" y="1306.2" font-size="58.5" text-anchor="start" fill="#000" font-weight="bold" font-style="normal"><tspan font-style="italic">K</tspan> = −7.27 µM<tspan font-size="36" dy="-24">−1</tspan></text>
<text x="1298.5" y="1448.4" font-size="68" text-anchor="middle" fill="#000" font-weight="bold" font-style="normal" transform="rotate(-90 1298.5 1448.4)"><tspan font-style="italic">I</tspan></text>
<text x="1938.8" y="1986.5" font-size="66" text-anchor="middle" fill="#000" font-weight="bold" font-style="normal">PA concentration (µM)</text>
<text x="1254.0" y="1082.0" font-size="99" text-anchor="start" fill="#000" font-weight="bold" font-style="normal">d</text>
</svg>
</body></html>
